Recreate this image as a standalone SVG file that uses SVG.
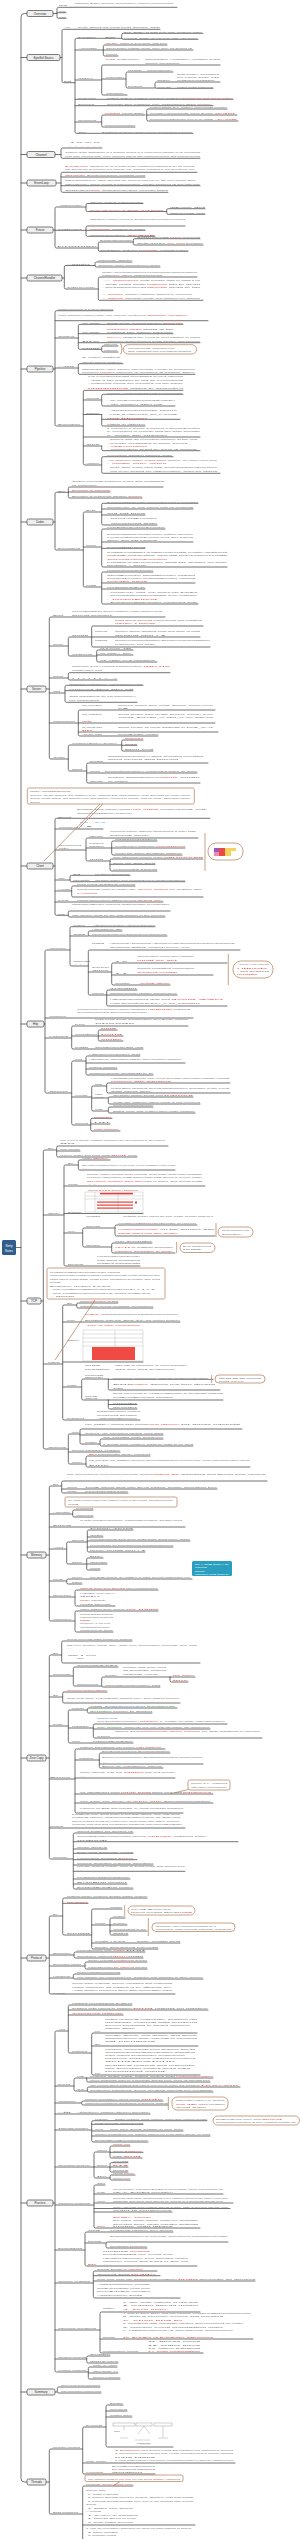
<svg xmlns="http://www.w3.org/2000/svg" width="300" height="2539" viewBox="0 0 300 2539">
<style>
.l{fill:none;stroke:#5b5b5b;stroke-width:.85;stroke-linecap:round;stroke-linejoin:round}
.t{font-family:"Liberation Sans",Arial,sans-serif;font-size:2.5px;fill:#6e6e6e}
.r{fill:#e5403a}.bl{fill:#3d82c4}.gr{fill:#3a9a4a}.w{fill:#fff}
.bx{fill:#efefef;stroke:#5b5b5b;stroke-width:.8}
.bt{font-family:"Liberation Sans",Arial,sans-serif;font-size:3px;fill:#333;text-anchor:middle}
.c{fill:#fff;stroke:#b98a6c;stroke-width:.8}
.cl{fill:none;stroke:#b98a6c;stroke-width:.8}
</style>
<rect width="300" height="2539" fill="#fff"/>
<g id="connectors" class="l">
<path d="M27,13.5H24.5Q21,13.5 21,17V2478.5Q21,2482 24.5,2482H27M21,57.5H27M21,154.5H27M21,183H27M21,230H27M21,278H27M21,369H27M21,522H27M21,689H27M21,866H27M21,1024H27M21,1301H27M21,1555H27M21,1758H27M21,1958H27M21,2203H27M21,2392H27M16,1247.5H21"/>
<path d="M53,13.5H57M177,7.3H58.5Q57,7.3 57,8.8V16.8Q57,18.3 58.5,18.3H66M57,12.7H66"/>
<path d="M60,57.5H62M160,29.3H63.5Q62,29.3 62,30.8V81.2Q62,82.7 63.5,82.7H75M121.7,38.3H76.5Q75,38.3 75,39.8V131.8Q75,133.3 76.5,133.3H193M75,50H103.3M75,80H101.7M75,99.3H233M75,105.7H213M75,122H101.7M203,33.3H123.2Q121.7,33.3 121.7,34.8V37.8Q121.7,39.3 123.2,39.3H198M167,45H104.8Q103.3,45 103.3,46.5V54.5Q103.3,56 104.8,56H118M103.3,50H193M220,65H103.2Q101.7,65 101.7,66.5V93.5Q101.7,95 103.2,95H127M101.7,79H126M173,72H127.5Q126,72 126,73.5V86.5Q126,88 127.5,88H155M220,82H156.5Q155,82 155,83.5V86.8Q155,88.3 156.5,88.3H213M145,115H103.2Q101.7,115 101.7,116.5V125.5Q101.7,127 103.2,127H135M227,109H148.2Q146.7,109 146.7,110.5V119.5Q146.7,121 148.2,121H238M146.7,115H237"/>
<path d="M55,154.5H61M102,148H62.5Q61,148 61,149.5V156.8Q61,158.3 62.5,158.3H200"/>
<path d="M56,183H61M197,172.3H62.5Q61,172.3 61,173.8V190.8Q61,192.3 62.5,192.3H168M61,177H145M61,185.7H200"/>
<path d="M53,230H55M86,207H56.5Q55,207 55,208.5V246.5Q55,248 56.5,248H98.3M55,230.3H86M143,203.5H87.5Q86,203.5 86,205V210Q86,211.5 87.5,211.5H166.7M205,208.7H168.2Q166.7,208.7 166.7,210.2V212.8Q166.7,214.3 168.2,214.3H205M185,226H87.5Q86,226 86,227.5V234.8Q86,236.3 87.5,236.3H155M86,230.3H145M133.3,242H99.8Q98.3,242 98.3,243.5V249.8Q98.3,251.3 99.8,251.3H188M200,238.7H134.8Q133.3,238.7 133.3,240.2V243.5Q133.3,245 134.8,245H203"/>
<path d="M62,278H64.3M95,265.5H65.8Q64.3,265.5 64.3,267V287.5Q64.3,289 65.8,289H98.3M132,262H96.5Q95,262 95,263.5V265.5Q95,267 96.5,267H160M197,277H99.8Q98.3,277 98.3,278.5V298.8Q98.3,300.3 99.8,300.3H203"/>
<path d="M53,369H55M113,310.7H56.5Q55,310.7 55,312.2V424.5Q55,426 56.5,426H83.3M55,320.7H208M55,338H78.3M55,368H78.3M183,324.3H79.8Q78.3,324.3 78.3,325.8V347.8Q78.3,349.3 79.8,349.3H101.7M78.3,333.7H173M78.3,342.7H200M118,346H103.2Q101.7,346 101.7,347.5V350.5Q101.7,352 103.2,352H118M123,363.7H79.8Q78.3,363.7 78.3,365.2V372.8Q78.3,374.3 79.8,374.3H195M183,390.3H84.8Q83.3,390.3 83.3,391.8V463.5Q83.3,465 84.8,465H101.7M83.3,400H101.7M83.3,414.5H101.7M83.3,437H200M83.3,446H101.7M183,394.3H103.2Q101.7,394.3 101.7,395.8V404.5Q101.7,406 103.2,406H175M101.7,414.5V424.5Q101.7,426 103.2,426H145M101.7,419.3H180M101.7,446V449.2Q101.7,450.7 103.2,450.7H200M173,456.7H103.2Q101.7,456.7 101.7,458.2V471.8Q101.7,473.3 103.2,473.3H220"/>
<path d="M53,522H55M68.3,492.3H56.5Q55,492.3 55,493.8V548.5Q55,550 56.5,550H83.3M163,487H69.8Q68.3,487 68.3,488.5V496.5Q68.3,498 69.8,498H142M68.3,492H110M101.7,512H84.8Q83.3,512 83.3,513.5V585.5Q83.3,587 84.8,587H101.7M83.3,547H101.7M198,503.3H103.2Q101.7,503.3 101.7,504.8V523.5Q101.7,525 103.2,525H157M101.7,509H193M101.7,515H145M165,529H103.2Q101.7,529 101.7,530.5V565.5Q101.7,567 103.2,567H227M101.7,542H193M101.7,548.3H145M153,572H103.2Q101.7,572 101.7,573.5V602.5Q101.7,604 103.2,604H198M101.7,583H195M101.7,589H145"/>
<path d="M46,689H49.3M165,617H50.8Q49.3,617 49.3,618.5V757.5Q49.3,759 50.8,759H68.3M49.3,646H68.3M49.3,678H68.3M49.3,693H65M49.3,723H78.3M91.7,637H69.8Q68.3,637 68.3,638.5V654.5Q68.3,656 69.8,656H96.7M203,626H93.2Q91.7,626 91.7,627.5V645.5Q91.7,647 93.2,647H210M91.7,637H200M133,650H98.2Q96.7,650 96.7,651.5V660.5Q96.7,662 98.2,662H157M96.7,655H133M170,672.7H69.8Q68.3,672.7 68.3,674.2V678.5Q68.3,680 69.8,680H117M143,685.3H66.5Q65,685.3 65,686.8V700.8Q65,702.3 66.5,702.3H137M65,690.7H133M215,710H79.8Q78.3,710 78.3,711.5V734.5Q78.3,736 79.8,736H158M78.3,723H215M78.3,732H218M121.7,745H69.8Q68.3,745 68.3,746.5V769.5Q68.3,771 69.8,771H86.7M143,740H123.2Q121.7,740 121.7,741.5V749.5Q121.7,751 123.2,751H153M121.7,745.3H137M208,763H88.2Q86.7,763 86.7,764.5V781.5Q86.7,783 88.2,783H200M86.7,773H197"/>
<path d="M53,866H55M210,818.3H56.5Q55,818.3 55,819.8V913.8Q55,915.3 56.5,915.3H68.3M55,829H103M55,850H86M55,880H70M55,891H71.7M55,902H163M198,838H87.5Q86,838 86,839.5V859.5Q86,861 87.5,861H110M86,848H111.7M157,841H113.2Q111.7,841 111.7,842.5V853.5Q111.7,855 113.2,855H182M111.7,848H185M203,859H111.5Q110,859 110,860.5V869.5Q110,871 111.5,871H157M110,864.3H155M130,875.3H71.5Q70,875.3 70,876.8V880.2Q70,881.7 71.5,881.7H185M135,886H73.2Q71.7,886 71.7,887.5V895.5Q71.7,897 73.2,897H203M170,911H69.8Q68.3,911 68.3,912.5V915.5Q68.3,917 69.8,917H165"/>
<path d="M44,1024H45M70,950H46.5Q45,950 45,951.5V1091.5Q45,1093 46.5,1093H71.7M45,1018H193M45,1038H71.7M155,926.7H71.5Q70,926.7 70,928.2V964.5Q70,966 71.5,966H88.3M70,936H88.3M122,931H89.8Q88.3,931 88.3,932.5V934.5Q88.3,936 89.8,936H167M240,950H89.8Q88.3,950 88.3,951.5V993.5Q88.3,995 89.8,995H106.7M88.3,972H111.7M227,963H113.2Q111.7,963 111.7,964.5V983.5Q111.7,985 113.2,985H170M111.7,975H213M137,990H108.2Q106.7,990 106.7,991.5V1004.5Q106.7,1006 108.2,1006H227M106.7,995H177M188,1026H73.2Q71.7,1026 71.7,1027.5V1047.5Q71.7,1049 73.2,1049H143M71.7,1036H98.3M117,1030H99.8Q98.3,1030 98.3,1031.5V1039.5Q98.3,1041 99.8,1041H123M98.3,1036H123M86,1061H73.2Q71.7,1061 71.7,1062.5V1123.5Q71.7,1125 73.2,1125H90.7M71.7,1097H91.7M140,1056H87.5Q86,1056 86,1057.5V1073.5Q86,1075 87.5,1075H153M86,1063H185M86,1069H117M106.7,1086H93.2Q91.7,1086 91.7,1087.5V1109.5Q91.7,1111 93.2,1111H108.3M91.7,1098H108.3M230,1083H108.2Q106.7,1083 106.7,1084.5V1091.5Q106.7,1093 108.2,1093H230M193,1097H109.8Q108.3,1097 108.3,1098.5V1102.5Q108.3,1104 109.8,1104H200M153,1107H109.8Q108.3,1107 108.3,1108.5V1111.5Q108.3,1113 109.8,1113H195M112,1118.3H92.2Q90.7,1118.3 90.7,1119.8V1129.5Q90.7,1131 92.2,1131H120M90.7,1124H110"/>
<path d="M41,1301H43.3M56.7,1150H44.8Q43.3,1150 43.3,1151.5V1447.5Q43.3,1449 44.8,1449H68.3M43.3,1215H64M43.3,1364H62.7M168,1146H58.2Q56.7,1146 56.7,1147.5V1155.5Q56.7,1157 58.2,1157H137M56.7,1151H80M78.3,1165H65.5Q64,1165 64,1166.5V1264.5Q64,1266 65.5,1266H140M64,1186H205M64,1213.5H143M64,1233H82.7M110,1160H79.8Q78.3,1160 78.3,1161.5V1168.5Q78.3,1170 79.8,1170H175M115,1228H84.2Q82.7,1228 82.7,1229.5V1245.5Q82.7,1247 84.2,1247H111.7M197,1225H116.5Q115,1225 115,1226.5V1234.5Q115,1236 116.5,1236H215M152,1243H113.2Q111.7,1243 111.7,1244.5V1251.5Q111.7,1253 113.2,1253H175M76.7,1305H64.2Q62.7,1305 62.7,1306.5V1418.5Q62.7,1420 64.2,1420H140M62.7,1322H180M62.7,1362H143M62.7,1387H81.7M118,1303H78.2Q76.7,1303 76.7,1304.5V1306.5Q76.7,1308 78.2,1308H153M108.3,1379H83.2Q81.7,1379 81.7,1380.5V1398.5Q81.7,1400 83.2,1400H108.3M108.3,1379.3H213M108.3,1379.3V1388.5Q108.3,1390 109.8,1390H220M108.3,1400H223M108.3,1400V1407.5Q108.3,1409 109.8,1409H137M108.3,1404.5H137M80,1434H69.8Q68.3,1434 68.3,1435.5V1462.5Q68.3,1464 69.8,1464H86M68.3,1452H120M242,1429H81.5Q80,1429 80,1430.5V1442.5Q80,1444 81.5,1444H100M80,1435H163M163,1439H101.5Q100,1439 100,1440.5V1444.5Q100,1446 101.5,1446H193M150,1456H87.5Q86,1456 86,1457.5V1465.5Q86,1467 87.5,1467H250"/>
<path d="M46,1555H49.3M61.7,1486H50.8Q49.3,1486 49.3,1487.5V1619.5Q49.3,1621 50.8,1621H75M49.3,1514H72.7M49.3,1527H185M49.3,1549H66.7M49.3,1581H66.7M49.3,1597H75M267,1481H63.2Q61.7,1481 61.7,1482.5V1491.5Q61.7,1493 63.2,1493H128M61.7,1489H217M93,1510H74.2Q72.7,1510 72.7,1511.5V1515.5Q72.7,1517 74.2,1517H93M87.3,1542H68.2Q66.7,1542 66.7,1543.5V1562.5Q66.7,1564 68.2,1564H86.7M133,1530H88.8Q87.3,1530 87.3,1531.5V1550.5Q87.3,1552 88.8,1552H145M87.3,1537H103M87.3,1541H190M87.3,1547H173M103,1558H88.2Q86.7,1558 86.7,1559.5V1568.5Q86.7,1570 88.2,1570H100M86.7,1564H107M192,1579H68.2Q66.7,1579 66.7,1580.5V1582.5Q66.7,1584 68.2,1584H82M158,1590H76.5Q75,1590 75,1591.5V1604.5Q75,1606 76.5,1606H115M158,1611H76.5Q75,1611 75,1612.5V1630.5Q75,1632 76.5,1632H113"/>
<path d="M46,1758H49.3M61.7,1655H50.8Q49.3,1655 49.3,1656.5V1857.5Q49.3,1859 50.8,1859H73.3M49.3,1676H73.3M49.3,1697H62.7M49.3,1726H68.3M49.3,1779H75M49.3,1828H185M132,1641H63.2Q61.7,1641 61.7,1642.5V1661.5Q61.7,1663 63.2,1663H200M118,1667H74.8Q73.3,1667 73.3,1668.5V1684.5Q73.3,1686 74.8,1686H101.7M170,1677H103.2Q101.7,1677 101.7,1678.5V1685.5Q101.7,1687 103.2,1687H160M170,1677H195M170,1677V1680.5Q170,1682 171.5,1682H188M107,1692H64.2Q62.7,1692 62.7,1693.5V1701.5Q62.7,1703 64.2,1703H180M87.3,1710H69.8Q68.3,1710 68.3,1711.5V1741.5Q68.3,1743 69.8,1743H133M68.3,1728H93.3M177,1708H88.8Q87.3,1708 87.3,1709.5V1711.5Q87.3,1713 88.8,1713H152M227,1724H94.8Q93.3,1724 93.3,1725.5V1736.5Q93.3,1738 94.8,1738H262M93.3,1729H210M165,1749H76.5Q75,1749 75,1750.5V1811.5Q75,1813 76.5,1813H183M75,1760H99.3M75,1778H175M75,1794H213M75,1803H213M170,1753H100.8Q99.3,1753 99.3,1754.5V1766.5Q99.3,1768 100.8,1768H163M99.3,1764H203M133,1833H74.8Q73.3,1833 73.3,1834.5V1887.5Q73.3,1889 74.8,1889H133M73.3,1841.7H238M73.3,1849H107M73.3,1853.3H133M73.3,1859.7H137M73.3,1865H153M73.3,1871.3H185M73.3,1879H130M73.3,1884H127"/>
<path d="M46,1958H49.3M62.7,1916H50.8Q49.3,1916 49.3,1917.5V1992.5Q49.3,1994 50.8,1994H175M49.3,1955H74M49.3,1966H85M49.3,1978H73.3M147,1898H64.2Q62.7,1898 62.7,1899.5V1933.5Q62.7,1935 64.2,1935H91.7M62.7,1903.3H88M122,1909H93.2Q91.7,1909 91.7,1910.5V1947.5Q91.7,1949 93.2,1949H158M91.7,1925H110M91.7,1943H180M125,1918H111.5Q110,1918 110,1919.5V1933.5Q110,1935 111.5,1935H128M110,1925H127M110,1931H147M145,1952H75.5Q74,1952 74,1953.5V1956.5Q74,1958 75.5,1958H143M147,1962H86.5Q85,1962 85,1963.5V1967.5Q85,1969 86.5,1969H147M120,1974H74.8Q73.3,1974 73.3,1975.5V1977.5Q73.3,1979 74.8,1979H203"/>
<path d="M53,2203H55M68.3,2031H56.5Q55,2031 55,2032.5V2370.5Q55,2372 56.5,2372H88.3M55,2086H74M55,2103H81.7M55,2114H150M55,2130H91.7M55,2167H94M55,2205H94M55,2250H85M55,2283H93.3M55,2330H100M55,2359H86.7M132,2005H69.8Q68.3,2005 68.3,2006.5V2051.5Q68.3,2053 69.8,2053H91.7M68.3,2010H208M68.3,2015H123M197,2033H93.2Q91.7,2033 91.7,2034.5V2073.5Q91.7,2075 93.2,2075H200M91.7,2046H198M86.7,2078H75.5Q74,2078 74,2079.5V2089.5Q74,2091 75.5,2091H87.3M86.7,2078H213M86.7,2078V2080.5Q86.7,2082 88.2,2082H210M240,2087H88.8Q87.3,2087 87.3,2088.5V2090.5Q87.3,2092 88.8,2092H213M163,2101H83.2Q81.7,2101 81.7,2102.5V2103.5Q81.7,2105 83.2,2105H168M207,2120.7H93.2Q91.7,2120.7 91.7,2122.2V2140.5Q91.7,2142 93.2,2142H148M91.7,2124.3H143M91.7,2131H183M91.7,2136H210M110,2152H95.5Q94,2152 94,2153.5V2176.5Q94,2178 95.5,2178H110M94,2167H110M130,2146H111.5Q110,2146 110,2147.5V2156.5Q110,2158 111.5,2158H142M110,2152.3H143M128,2162.7H111.5Q110,2162.7 110,2164.2V2170.5Q110,2172 111.5,2172H128M110,2167H128M135,2175H111.5Q110,2175 110,2176.5V2178.5Q110,2180 111.5,2180H130M105,2185H95.5Q94,2185 94,2186.5V2226.5Q94,2228 95.5,2228H200M94,2194H223M94,2203H233M94,2208.5H230M94,2212H172M173,2232H86.5Q85,2232 85,2233.5V2264.5Q85,2266 86.5,2266H197M85,2243H106M228,2242H107.5Q106,2242 106,2243.5V2246.5Q106,2248 107.5,2248H147M157,2271H94.8Q93.3,2271 93.3,2272.5V2296.5Q93.3,2298 94.8,2298H180M93.3,2275.7H160M93.3,2281H255M200,2312H101.5Q100,2312 100,2313.5V2351.5Q100,2353 101.5,2353H203M100,2339H253M110,2356H88.2Q86.7,2356 86.7,2357.5V2361.5Q86.7,2363 88.2,2363H118M117,2367H89.8Q88.3,2367 88.3,2368.5V2377.5Q88.3,2379 89.8,2379H120M88.3,2373H118"/>
<path d="M55,2392H57.3M100,2387H58.8Q57.3,2387 57.3,2388.5V2391.5Q57.3,2393 58.8,2393H101"/>
<path d="M46,2482H49.3M82.7,2449H50.8Q49.3,2449 49.3,2450.5V2512.5Q49.3,2514 50.8,2514H82.7M106,2427H84.2Q82.7,2427 82.7,2428.5V2472.5Q82.7,2474 84.2,2474H155M82.7,2463H235M123,2405H107.5Q106,2405 106,2406.5V2445.5Q106,2447 107.5,2447H173M106,2411H127M106,2417H132M133,2486H84.2Q82.7,2486 82.7,2487.5V2539M82.7,2525H195"/>
</g>
<g id="callout-links" class="cl">
<path d="M103,804L78,829M100,804L44,861M205,833V871M228.3,954V985M216,1223V1237M176.7,1242V1253M95,1300L55,1360M211.7,1375V1383M190,1789L170,1794M124.7,1905V1916M148.3,1918V1936M168.3,2097V2110M120,2481.5L113,2486"/>
</g>
<g id="root"><rect x="2" y="1240" width="14" height="15" rx="1.5" fill="#2f5d8c"/><text class="bt w" x="9" y="1246.5" style="fill:#fff">Netty</text><text class="bt" x="9" y="1251.5" style="fill:#fff">Notes</text></g>
<g id="n1" class="t">
<rect class="bx" x="27" y="10.5" width="26" height="6" rx="1.5"/><text class="bt" x="40" y="14.6">Overview</text>
<text x="59" y="6.4" textLength="8" lengthAdjust="spacingAndGlyphs">NIO</text>
<text x="75" y="4.2" textLength="98" lengthAdjust="spacingAndGlyphs">Channel Buffer Selector SelectionKey Socket ServerSocket</text>
<text x="75" y="6.6" textLength="4" lengthAdjust="spacingAndGlyphs">..</text>
<text x="59" y="11.9" textLength="7" lengthAdjust="spacingAndGlyphs">Netty</text>
<text x="59" y="17.5" textLength="7" lengthAdjust="spacingAndGlyphs">Mina</text>
</g>
<g id="n2" class="t">
<rect class="bx" x="27" y="54.5" width="33" height="6" rx="1.5"/><text class="bt" x="43.5" y="58.6">ByteBuf Basics</text>
<text x="64" y="28.4" textLength="6" lengthAdjust="spacingAndGlyphs">API</text>
<text x="78" y="28.4" textLength="82" lengthAdjust="spacingAndGlyphs">byte  short  int  long  float  double  char</text>
<text x="64" y="81.9" textLength="7" lengthAdjust="spacingAndGlyphs">bit</text>
<text x="78" y="37.5" textLength="18" lengthAdjust="spacingAndGlyphs">ByteOrder</text>
<text x="105" y="37.5" textLength="10" lengthAdjust="spacingAndGlyphs">Bits</text>
<text x="124" y="32.5" textLength="78" lengthAdjust="spacingAndGlyphs">BIG_ENDIAN high byte first, network order</text>
<text x="124" y="38.5" textLength="73" lengthAdjust="spacingAndGlyphs">LITTLE_ENDIAN low byte first, x86 order</text>
<text x="78" y="49.2" textLength="19" lengthAdjust="spacingAndGlyphs">Allocate</text>
<text class="r" x="106" y="44.2" textLength="11" lengthAdjust="spacingAndGlyphs">heap</text>
<text x="120" y="44.2" textLength="47" lengthAdjust="spacingAndGlyphs">buffer in JVM heap, fast alloc</text>
<text x="106" y="49.2" textLength="86" lengthAdjust="spacingAndGlyphs">direct buffer outside heap, zero copy for socket IO</text>
<text x="106" y="55.2" textLength="11" lengthAdjust="spacingAndGlyphs">pooled</text>
<text x="78" y="79.2" textLength="15" lengthAdjust="spacingAndGlyphs">Index</text>
<text class="r" x="106" y="60.3" textLength="9" lengthAdjust="spacingAndGlyphs">read</text>
<text x="117" y="60.3" textLength="22" lengthAdjust="spacingAndGlyphs">readerIndex</text>
<text x="145" y="60.3" textLength="75" lengthAdjust="spacingAndGlyphs">discardable | readable | writable bytes</text>
<text x="145" y="63.6" textLength="35" lengthAdjust="spacingAndGlyphs">capacity maxCapacity</text>
<text x="106" y="78.2" textLength="18" lengthAdjust="spacingAndGlyphs">readerIndex</text>
<text x="128" y="71.2" textLength="14" lengthAdjust="spacingAndGlyphs">mark</text>
<text x="147" y="71.2" textLength="25" lengthAdjust="spacingAndGlyphs">markReaderIndex</text>
<text x="128" y="87.2" textLength="14" lengthAdjust="spacingAndGlyphs">reset</text>
<text x="157" y="81.2" textLength="13" lengthAdjust="spacingAndGlyphs">writer</text>
<text x="177" y="75.3" textLength="42" lengthAdjust="spacingAndGlyphs">writerIndex increases</text>
<text x="177" y="78.3" textLength="42" lengthAdjust="spacingAndGlyphs">on each write call</text>
<text x="177" y="81.2" textLength="38" lengthAdjust="spacingAndGlyphs">ensureWritable</text>
<text x="157" y="87.5" textLength="14" lengthAdjust="spacingAndGlyphs">clear</text>
<text x="177" y="87.5" textLength="36" lengthAdjust="spacingAndGlyphs">reset both indexes</text>
<text x="106" y="94.2" textLength="18" lengthAdjust="spacingAndGlyphs">capacity</text>
<text x="78" y="98.5" textLength="18" lengthAdjust="spacingAndGlyphs">Read/Write</text>
<text x="107" y="98.5" textLength="74" lengthAdjust="spacingAndGlyphs">getByte setByte readByte writeByte skipBytes</text>
<text class="r" x="182" y="98.5" textLength="51" lengthAdjust="spacingAndGlyphs">get/set do not move index</text>
<text x="78" y="104.9" textLength="16" lengthAdjust="spacingAndGlyphs">Derived</text>
<text x="107" y="104.9" textLength="105" lengthAdjust="spacingAndGlyphs">duplicate slice readSlice copy retainedSlice share memory</text>
<text x="78" y="121.2" textLength="18" lengthAdjust="spacingAndGlyphs">RefCount</text>
<text class="r" x="105" y="114.2" textLength="15" lengthAdjust="spacingAndGlyphs">retain</text>
<text x="122" y="114.2" textLength="22" lengthAdjust="spacingAndGlyphs">release</text>
<text x="150" y="108.2" textLength="77" lengthAdjust="spacingAndGlyphs">refCnt starts at 1, retain() increments counter</text>
<text x="150" y="114.2" textLength="63" lengthAdjust="spacingAndGlyphs">release() decrements, freed at zero</text>
<text class="r" x="215" y="114.2" textLength="20" lengthAdjust="spacingAndGlyphs">leak!</text>
<text x="150" y="120.2" textLength="63" lengthAdjust="spacingAndGlyphs">ResourceLeakDetector level PARANOID</text>
<text class="r" x="215" y="120.2" textLength="22" lengthAdjust="spacingAndGlyphs">ADVANCED</text>
<text x="105" y="126.2" textLength="30" lengthAdjust="spacingAndGlyphs">ReferenceCountUtil</text>
<text x="78" y="132.5" textLength="8" lengthAdjust="spacingAndGlyphs">Tool</text>
<text x="102" y="132.5" textLength="90" lengthAdjust="spacingAndGlyphs">ByteBufUtil hexDump equals compare decodeString Unpooled</text>
</g>
<g id="n3" class="t">
<rect class="bx" x="27" y="151.5" width="28" height="6" rx="1.5"/><text class="bt" x="41" y="155.6">Channel</text>
<text x="70" y="142.5" textLength="30" lengthAdjust="spacingAndGlyphs">T    N    W    M</text>
<text class="r" x="68" y="146.5" textLength="34" lengthAdjust="spacingAndGlyphs">-  -  -  -  -  -</text>
<text x="65" y="152.5" textLength="135" lengthAdjust="spacingAndGlyphs">Channel is the abstraction of a network socket or a component capable of IO operations</text>
<text x="65" y="156.6" textLength="135" lengthAdjust="spacingAndGlyphs">read write connect bind, every Channel has its own ChannelPipeline and ChannelConfig</text>
</g>
<g id="n4" class="t">
<rect class="bx" x="27" y="180" width="29" height="6" rx="1.5"/><text class="bt" x="41.5" y="184.1">EventLoop</text>
<text class="r" x="65" y="166.5" textLength="23" lengthAdjust="spacingAndGlyphs">EventLoop</text>
<text x="90" y="166.5" textLength="105" lengthAdjust="spacingAndGlyphs">handles all IO events of the registered Channels for its lifetime</text>
<text x="65" y="170" textLength="130" lengthAdjust="spacingAndGlyphs">one EventLoop is bound to one Thread, one Channel registers to one EventLoop only</text>
<text class="r" x="65" y="175.7" textLength="20" lengthAdjust="spacingAndGlyphs">Group</text>
<text x="87" y="175.7" textLength="58" lengthAdjust="spacingAndGlyphs">EventLoopGroup contains loops</text>
<text x="65" y="180.5" textLength="130" lengthAdjust="spacingAndGlyphs">tasks submitted by other threads are queued and run by the loop thread itself</text>
<text x="65" y="184.6" textLength="135" lengthAdjust="spacingAndGlyphs">inEventLoop() check avoids synchronization, ioRatio balances IO and task time</text>
<text x="65" y="191.3" textLength="27" lengthAdjust="spacingAndGlyphs">schedule</text>
<text class="r" x="92" y="191.3" textLength="8" lengthAdjust="spacingAndGlyphs">tick</text>
<text x="102" y="191.3" textLength="66" lengthAdjust="spacingAndGlyphs">ScheduledFuture periodic tasks</text>
</g>
<g id="n5" class="t">
<rect class="bx" x="27" y="227" width="26" height="6" rx="1.5"/><text class="bt" x="40" y="231.1">Future</text>
<text x="60" y="206.2" textLength="22" lengthAdjust="spacingAndGlyphs">ChannelFuture</text>
<text x="90" y="202.7" textLength="53" lengthAdjust="spacingAndGlyphs">async result placeholder</text>
<text class="r" x="90" y="210.7" textLength="73" lengthAdjust="spacingAndGlyphs">never call sync() or await() in IO thread</text>
<text x="170" y="207.9" textLength="22" lengthAdjust="spacingAndGlyphs">isDone</text>
<text x="194" y="207.9" textLength="11" lengthAdjust="spacingAndGlyphs">get</text>
<text x="170" y="213.5" textLength="24" lengthAdjust="spacingAndGlyphs">isSuccess</text>
<text x="196" y="213.5" textLength="9" lengthAdjust="spacingAndGlyphs">cause</text>
<text x="58" y="229.5" textLength="24" lengthAdjust="spacingAndGlyphs">Listener</text>
<text x="90" y="220.3" textLength="95" lengthAdjust="spacingAndGlyphs">addListener: callback invoked by EventLoop when operation completes</text>
<text x="90" y="224.5" textLength="5" lengthAdjust="spacingAndGlyphs">..</text>
<text class="r" x="90" y="229.5" textLength="20" lengthAdjust="spacingAndGlyphs">complete</text>
<text x="112" y="229.5" textLength="33" lengthAdjust="spacingAndGlyphs">notified in order</text>
<text x="90" y="235.5" textLength="35" lengthAdjust="spacingAndGlyphs">ChannelFutureListener</text>
<text class="r" x="127" y="235.5" textLength="28" lengthAdjust="spacingAndGlyphs">CLOSE</text>
<text x="57" y="247.2" textLength="40" lengthAdjust="spacingAndGlyphs">Promise</text>
<text x="100" y="241.2" textLength="32" lengthAdjust="spacingAndGlyphs">DefaultPromise</text>
<text x="137" y="237.9" textLength="32" lengthAdjust="spacingAndGlyphs">setSuccess</text>
<text class="r" x="170" y="237.9" textLength="12" lengthAdjust="spacingAndGlyphs">once</text>
<text x="183" y="237.9" textLength="17" lengthAdjust="spacingAndGlyphs">trySuccess</text>
<text x="137" y="244.2" textLength="29" lengthAdjust="spacingAndGlyphs">setFailure</text>
<text class="r" x="167" y="244.2" textLength="18" lengthAdjust="spacingAndGlyphs">only once</text>
<text x="186" y="244.2" textLength="17" lengthAdjust="spacingAndGlyphs">tryFailure</text>
<text x="100" y="250.5" textLength="38" lengthAdjust="spacingAndGlyphs">writable future</text>
<text class="r" x="139" y="250.5" textLength="19" lengthAdjust="spacingAndGlyphs">Promise</text>
<text x="160" y="250.5" textLength="28" lengthAdjust="spacingAndGlyphs">extends Future</text>
</g>
<g id="n6" class="t">
<rect class="bx" x="27" y="275" width="35" height="6" rx="1.5"/><text class="bt" x="44.5" y="279.1">ChannelHandler</text>
<text x="67" y="264.7" textLength="23" lengthAdjust="spacingAndGlyphs">Adapter</text>
<text x="98" y="261.2" textLength="34" lengthAdjust="spacingAndGlyphs">InboundAdapter</text>
<text x="98" y="266.2" textLength="62" lengthAdjust="spacingAndGlyphs">OutboundAdapter ChannelDuplexHandler</text>
<text x="67" y="288.2" textLength="28" lengthAdjust="spacingAndGlyphs">Lifecycle</text>
<text x="102" y="272.7" textLength="95" lengthAdjust="spacingAndGlyphs">handlerAdded handlerRemoved exceptionCaught channelRegistered</text>
<text x="102" y="276.2" textLength="60" lengthAdjust="spacingAndGlyphs">channelActive channelRead</text>
<text x="102" y="280.9" textLength="10" lengthAdjust="spacingAndGlyphs">-</text>
<text class="r" x="113" y="280.9" textLength="25" lengthAdjust="spacingAndGlyphs">channelRead</text>
<text x="140" y="280.9" textLength="60" lengthAdjust="spacingAndGlyphs">must release msg or pass it on</text>
<text x="102" y="284.7" textLength="44" lengthAdjust="spacingAndGlyphs">- write flush close</text>
<text class="r" x="147" y="284.7" textLength="20" lengthAdjust="spacingAndGlyphs">outbound</text>
<text x="169" y="284.7" textLength="31" lengthAdjust="spacingAndGlyphs">tail to head</text>
<text x="102" y="288.4" textLength="44" lengthAdjust="spacingAndGlyphs">- fireChannelRead</text>
<text class="r" x="147" y="288.4" textLength="20" lengthAdjust="spacingAndGlyphs">inbound</text>
<text x="169" y="288.4" textLength="31" lengthAdjust="spacingAndGlyphs">head to tail</text>
<text x="102" y="294.6" textLength="5" lengthAdjust="spacingAndGlyphs">-</text>
<text class="r" x="108" y="294.6" textLength="15" lengthAdjust="spacingAndGlyphs">Sharable</text>
<text x="125" y="294.6" textLength="67" lengthAdjust="spacingAndGlyphs">handler instance shared by pipelines</text>
<text x="102" y="298.5" textLength="5" lengthAdjust="spacingAndGlyphs">-</text>
<text class="r" x="108" y="298.5" textLength="15" lengthAdjust="spacingAndGlyphs">stateless</text>
<text x="125" y="298.5" textLength="75" lengthAdjust="spacingAndGlyphs">otherwise create new instance per channel</text>
</g>
<g id="n7" class="t">
<rect class="bx" x="27" y="366" width="26" height="6" rx="1.5"/><text class="bt" x="40" y="370.1">Pipeline</text>
<text x="58" y="309.6" textLength="55" lengthAdjust="spacingAndGlyphs">ChannelPipeline is a list of handlers</text>
<text x="58" y="316" textLength="88" lengthAdjust="spacingAndGlyphs">each Channel owns exactly one pipeline created on</text>
<text class="r" x="147" y="316" textLength="40" lengthAdjust="spacingAndGlyphs">Channel creation</text>
<text x="58" y="319.4" textLength="4" lengthAdjust="spacingAndGlyphs">..</text>
<text x="58" y="337.2" textLength="16" lengthAdjust="spacingAndGlyphs">Context</text>
<text x="82" y="323.5" textLength="18" lengthAdjust="spacingAndGlyphs">ctx.write</text>
<text x="107" y="323.5" textLength="55" lengthAdjust="spacingAndGlyphs">starts at the current handler</text>
<text class="r" x="163" y="323.5" textLength="20" lengthAdjust="spacingAndGlyphs">skips tail</text>
<text class="r" x="107" y="329.5" textLength="35" lengthAdjust="spacingAndGlyphs">channel.write</text>
<text x="143" y="329.5" textLength="30" lengthAdjust="spacingAndGlyphs">starts at tail</text>
<text x="82" y="332.9" textLength="18" lengthAdjust="spacingAndGlyphs">ch.write</text>
<text x="107" y="332.9" textLength="66" lengthAdjust="spacingAndGlyphs">passes the whole pipeline</text>
<text class="r" x="107" y="338.3" textLength="15" lengthAdjust="spacingAndGlyphs">fireXXX</text>
<text x="123" y="338.3" textLength="77" lengthAdjust="spacingAndGlyphs">passes the event to next handler in chain</text>
<text x="82" y="341.9" textLength="18" lengthAdjust="spacingAndGlyphs">fire</text>
<text x="107" y="341.9" textLength="93" lengthAdjust="spacingAndGlyphs">ChannelHandlerContext binds handler and pipeline</text>
<text x="82" y="348.5" textLength="18" lengthAdjust="spacingAndGlyphs">Mask</text>
<text x="104" y="345.2" textLength="13" lengthAdjust="spacingAndGlyphs">inbound</text>
<text x="104" y="351.2" textLength="13" lengthAdjust="spacingAndGlyphs">outbound</text>
<path class="cl" d="M120,344Q121.5,344 121.5,346V347.5Q121.5,349 122.5,349Q121.5,349 121.5,350.5V352Q121.5,354 120,354"/>
<rect class="c" x="123.3" y="344.7" width="73.3" height="9.3" rx="4.6"/>
<text x="128" y="348.5" textLength="47" lengthAdjust="spacingAndGlyphs">executionMask computed once</text>
<text x="128" y="351.8" textLength="63" lengthAdjust="spacingAndGlyphs">skip handlers not overriding method</text>
<text x="82" y="357.5" textLength="38" lengthAdjust="spacingAndGlyphs">Z: order matters</text>
<text x="58" y="367.2" textLength="16" lengthAdjust="spacingAndGlyphs">Add</text>
<text x="82" y="362.9" textLength="40" lengthAdjust="spacingAndGlyphs">addLast addFirst addBefore</text>
<text x="82" y="369.6" textLength="113" lengthAdjust="spacingAndGlyphs">addLast(group, name, handler) uses separate executor for blocking work</text>
<text x="82" y="373.4" textLength="17" lengthAdjust="spacingAndGlyphs">remove</text>
<text class="r" x="100" y="373.4" textLength="15" lengthAdjust="spacingAndGlyphs">replace</text>
<text x="116" y="373.4" textLength="79" lengthAdjust="spacingAndGlyphs">pipeline is modified at runtime safely</text>
<text x="58" y="425.2" textLength="22" lengthAdjust="spacingAndGlyphs">Exception</text>
<text x="88" y="377.3" textLength="95" lengthAdjust="spacingAndGlyphs">F/C exceptionCaught propagates to next inbound</text>
<text x="88" y="380.7" textLength="95" lengthAdjust="spacingAndGlyphs">- add a tail handler to log all exceptions</text>
<text x="88" y="384.1" textLength="95" lengthAdjust="spacingAndGlyphs">- outbound errors are reported via the future</text>
<text class="r" x="88" y="389.4" textLength="40" lengthAdjust="spacingAndGlyphs">unhandled</text>
<text x="130" y="389.4" textLength="53" lengthAdjust="spacingAndGlyphs">logged by TailContext</text>
<text x="86" y="399.2" textLength="13" lengthAdjust="spacingAndGlyphs">Inbound</text>
<text x="107" y="393.5" textLength="75" lengthAdjust="spacingAndGlyphs">override exceptionCaught fireExceptionCaught</text>
<text x="107" y="401.2" textLength="68" lengthAdjust="spacingAndGlyphs">- ctx.fireExceptionCaught(cause)</text>
<text x="107" y="405.2" textLength="55" lengthAdjust="spacingAndGlyphs">- ctx.close() after log</text>
<text x="86" y="413.7" textLength="13" lengthAdjust="spacingAndGlyphs">Outbound</text>
<text x="107" y="411" textLength="70" lengthAdjust="spacingAndGlyphs">- ChannelPromise failure</text>
<text x="107" y="414.8" textLength="70" lengthAdjust="spacingAndGlyphs">- FIRE_EXCEPTION_ON_FAILURE</text>
<text class="r" x="107" y="418.5" textLength="40" lengthAdjust="spacingAndGlyphs">not thrown</text>
<text x="107" y="425.2" textLength="38" lengthAdjust="spacingAndGlyphs">catch in listener</text>
<text x="107" y="428.5" textLength="93" lengthAdjust="spacingAndGlyphs">a. exception in decode is wrapped in DecoderException</text>
<text x="107" y="432" textLength="93" lengthAdjust="spacingAndGlyphs">b. exception in encode fails the write promise</text>
<text x="107" y="435.8" textLength="60" lengthAdjust="spacingAndGlyphs">c. close the channel</text>
<text x="86" y="445.2" textLength="13" lengthAdjust="spacingAndGlyphs">Tips</text>
<text x="107" y="440" textLength="90" lengthAdjust="spacingAndGlyphs">- always add an exception handler at the end</text>
<text x="107" y="443.5" textLength="80" lengthAdjust="spacingAndGlyphs">- release messages in finally blocks</text>
<text class="r" x="107" y="447" textLength="40" lengthAdjust="spacingAndGlyphs">- IOException</text>
<text x="107" y="449.9" textLength="90" lengthAdjust="spacingAndGlyphs">- connection reset by peer is normal</text>
<text x="86" y="464.2" textLength="13" lengthAdjust="spacingAndGlyphs">Handler</text>
<text x="107" y="455.9" textLength="65" lengthAdjust="spacingAndGlyphs">exception handler sample code</text>
<text x="107" y="460.5" textLength="110" lengthAdjust="spacingAndGlyphs">- ctx.channel().close() closes whole channel, ctx.close() from here</text>
<text class="r" x="107" y="464" textLength="60" lengthAdjust="spacingAndGlyphs">- close only once</text>
<text x="107" y="467.5" textLength="110" lengthAdjust="spacingAndGlyphs">- write after close fails with ClosedChannelException</text>
<text x="107" y="471.5" textLength="110" lengthAdjust="spacingAndGlyphs">- log level debug for IOException, warn for others</text>
</g>
<g id="n8" class="t">
<rect class="bx" x="27" y="519" width="26" height="6" rx="1.5"/><text class="bt" x="40" y="523.1">Codec</text>
<text x="58" y="491.5" textLength="7" lengthAdjust="spacingAndGlyphs">Bo</text>
<text x="72" y="482" textLength="92" lengthAdjust="spacingAndGlyphs">Codec converts between bytes and messages</text>
<text x="72" y="485.5" textLength="25" lengthAdjust="spacingAndGlyphs">in pipeline</text>
<text class="r" x="72" y="491.2" textLength="38" lengthAdjust="spacingAndGlyphs">Decoder is inbound</text>
<text x="72" y="497.2" textLength="55" lengthAdjust="spacingAndGlyphs">Encoder is outbound handler</text>
<text class="r" x="128" y="497.2" textLength="14" lengthAdjust="spacingAndGlyphs">Codec</text>
<text x="58" y="549.2" textLength="22" lengthAdjust="spacingAndGlyphs">Decoders</text>
<text x="86" y="511.2" textLength="10" lengthAdjust="spacingAndGlyphs">Byte</text>
<text x="107" y="502.5" textLength="91" lengthAdjust="spacingAndGlyphs">ByteToMessageDecoder accumulates bytes in cumulation</text>
<text x="107" y="508.2" textLength="86" lengthAdjust="spacingAndGlyphs">decode(ctx, in, out) called until no progress</text>
<text x="107" y="514.2" textLength="38" lengthAdjust="spacingAndGlyphs">out list fired</text>
<text x="107" y="519.3" textLength="50" lengthAdjust="spacingAndGlyphs">- ReplayingDecoder</text>
<text x="107" y="523.5" textLength="50" lengthAdjust="spacingAndGlyphs">- checkpoint state</text>
<text x="86" y="546.2" textLength="10" lengthAdjust="spacingAndGlyphs">Frame</text>
<text x="107" y="528.2" textLength="58" lengthAdjust="spacingAndGlyphs">LineBasedFrameDecoder</text>
<text x="107" y="534.5" textLength="86" lengthAdjust="spacingAndGlyphs">DelimiterBasedFrameDecoder custom delimiter</text>
<text x="107" y="538" textLength="86" lengthAdjust="spacingAndGlyphs">FixedLengthFrameDecoder fixed size frames</text>
<text x="107" y="541.2" textLength="50" lengthAdjust="spacingAndGlyphs">sticky and half packets</text>
<text x="107" y="547.5" textLength="38" lengthAdjust="spacingAndGlyphs">LengthField</text>
<text x="107" y="552.5" textLength="120" lengthAdjust="spacingAndGlyphs">lengthFieldOffset lengthFieldLength lengthAdjustment</text>
<text x="107" y="556" textLength="120" lengthAdjust="spacingAndGlyphs">initialBytesToStrip failFast maxFrameLength</text>
<text class="r" x="107" y="559.5" textLength="60" lengthAdjust="spacingAndGlyphs">TooLongFrameException</text>
<text x="107" y="563" textLength="120" lengthAdjust="spacingAndGlyphs">LengthFieldPrepender adds the header on write</text>
<text x="107" y="566.2" textLength="40" lengthAdjust="spacingAndGlyphs">header + body</text>
<text x="86" y="586.2" textLength="10" lengthAdjust="spacingAndGlyphs">Msg</text>
<text x="107" y="571.2" textLength="46" lengthAdjust="spacingAndGlyphs">MessageToMessageDecoder</text>
<text x="107" y="575.5" textLength="88" lengthAdjust="spacingAndGlyphs">StringDecoder StringEncoder charset</text>
<text x="107" y="579" textLength="88" lengthAdjust="spacingAndGlyphs">ProtobufDecoder ProtobufEncoder varint32</text>
<text class="r" x="107" y="582.2" textLength="40" lengthAdjust="spacingAndGlyphs">release input</text>
<text x="107" y="588.2" textLength="38" lengthAdjust="spacingAndGlyphs">MessageToByte</text>
<text x="107" y="592.5" textLength="90" lengthAdjust="spacingAndGlyphs">- encode(ctx, msg, out) writes into ByteBuf</text>
<text x="107" y="596" textLength="90" lengthAdjust="spacingAndGlyphs">- acceptOutboundMessage type matcher</text>
<text class="r" x="107" y="599.5" textLength="50" lengthAdjust="spacingAndGlyphs">- preferDirect</text>
<text x="107" y="603.2" textLength="90" lengthAdjust="spacingAndGlyphs">- ByteToMessageCodec combines both</text>
</g>
<g id="n9" class="t">
<rect class="bx" x="27" y="686" width="19" height="6" rx="1.5"/><text class="bt" x="36.5" y="690.1">Server</text>
<text x="53" y="616.2" textLength="10" lengthAdjust="spacingAndGlyphs">Boot</text>
<text x="72" y="612" textLength="90" lengthAdjust="spacingAndGlyphs">ServerBootstrap group channel childHandler bind</text>
<text x="72" y="615.6" textLength="40" lengthAdjust="spacingAndGlyphs">fluent builder</text>
<text x="53" y="645.2" textLength="10" lengthAdjust="spacingAndGlyphs">Group</text>
<text x="72" y="636.2" textLength="16" lengthAdjust="spacingAndGlyphs">boss</text>
<text x="115" y="620.5" textLength="87" lengthAdjust="spacingAndGlyphs">boss group accepts connections and registers</text>
<text class="r" x="115" y="624.2" textLength="40" lengthAdjust="spacingAndGlyphs">usually 1 thread</text>
<text x="95" y="631.8" textLength="12" lengthAdjust="spacingAndGlyphs">parent</text>
<text x="115" y="631.8" textLength="85" lengthAdjust="spacingAndGlyphs">worker group handles read and write of child</text>
<text x="115" y="635.5" textLength="50" lengthAdjust="spacingAndGlyphs">default cpu * 2</text>
<text x="95" y="641" textLength="12" lengthAdjust="spacingAndGlyphs">child</text>
<text x="115" y="641" textLength="95" lengthAdjust="spacingAndGlyphs">NioServerSocketChannel EpollServerSocketChannel</text>
<text x="115" y="645.3" textLength="40" lengthAdjust="spacingAndGlyphs">KQueue on mac</text>
<text x="72" y="655.2" textLength="20" lengthAdjust="spacingAndGlyphs">options</text>
<text x="100" y="649.2" textLength="20" lengthAdjust="spacingAndGlyphs">SO_BACKLOG</text>
<text x="123" y="649.2" textLength="8" lengthAdjust="spacingAndGlyphs">128</text>
<text x="100" y="654.2" textLength="20" lengthAdjust="spacingAndGlyphs">TCP_NODELAY</text>
<text x="123" y="654.2" textLength="8" lengthAdjust="spacingAndGlyphs">true</text>
<text x="100" y="661.2" textLength="55" lengthAdjust="spacingAndGlyphs">SO_KEEPALIVE childOption</text>
<text x="53" y="677.2" textLength="10" lengthAdjust="spacingAndGlyphs">bind</text>
<text x="72" y="667" textLength="70" lengthAdjust="spacingAndGlyphs">bind(port).sync() returns ChannelFuture</text>
<text class="r" x="143" y="667" textLength="27" lengthAdjust="spacingAndGlyphs">async</text>
<text x="72" y="670.7" textLength="30" lengthAdjust="spacingAndGlyphs">register then bind</text>
<text x="72" y="679.2" textLength="45" lengthAdjust="spacingAndGlyphs">[ ]  ( )  { }  &lt; &gt;</text>
<text x="53" y="692.2" textLength="7" lengthAdjust="spacingAndGlyphs">Init</text>
<text x="69" y="684.5" textLength="74" lengthAdjust="spacingAndGlyphs">ChannelInitializer initChannel(ch)</text>
<text x="69" y="689.9" textLength="64" lengthAdjust="spacingAndGlyphs">removes itself after init</text>
<text x="69" y="697" textLength="67" lengthAdjust="spacingAndGlyphs">add handlers to ch.pipeline()</text>
<text x="69" y="700.6" textLength="30" lengthAdjust="spacingAndGlyphs">per connection</text>
<text x="53" y="722.2" textLength="22" lengthAdjust="spacingAndGlyphs">ChannelOption</text>
<text x="82" y="705.5" textLength="20" lengthAdjust="spacingAndGlyphs">SO_RCVBUF</text>
<text x="118" y="705.5" textLength="95" lengthAdjust="spacingAndGlyphs">receive buffer size of the socket, kernel level</text>
<text x="118" y="709.1" textLength="10" lengthAdjust="spacingAndGlyphs">KB</text>
<text x="82" y="714.5" textLength="20" lengthAdjust="spacingAndGlyphs">SO_SNDBUF</text>
<text x="118" y="714.5" textLength="95" lengthAdjust="spacingAndGlyphs">send buffer size of the socket, kernel level</text>
<text x="118" y="718" textLength="95" lengthAdjust="spacingAndGlyphs">WRITE_BUFFER_WATER_MARK high low</text>
<text class="r" x="82" y="722" textLength="10" lengthAdjust="spacingAndGlyphs">note</text>
<text x="82" y="727.5" textLength="20" lengthAdjust="spacingAndGlyphs">SO_REUSEADDR</text>
<text x="118" y="727.5" textLength="95" lengthAdjust="spacingAndGlyphs">allow reuse of local address in TIME_WAIT</text>
<text class="r" x="82" y="731.2" textLength="10" lengthAdjust="spacingAndGlyphs">tip</text>
<text x="82" y="735.2" textLength="20" lengthAdjust="spacingAndGlyphs">ALLOCATOR</text>
<text x="118" y="735.2" textLength="40" lengthAdjust="spacingAndGlyphs">PooledByteBufAllocator</text>
<text x="53" y="758.2" textLength="12" lengthAdjust="spacingAndGlyphs">Close</text>
<text x="72" y="744.2" textLength="45" lengthAdjust="spacingAndGlyphs">closeFuture().sync()</text>
<text class="r" x="125" y="739.2" textLength="18" lengthAdjust="spacingAndGlyphs">graceful</text>
<text x="125" y="744.5" textLength="12" lengthAdjust="spacingAndGlyphs">wait</text>
<text x="125" y="750.2" textLength="28" lengthAdjust="spacingAndGlyphs">then exit</text>
<text x="72" y="770.2" textLength="10" lengthAdjust="spacingAndGlyphs">shut</text>
<text x="90" y="762.2" textLength="13" lengthAdjust="spacingAndGlyphs">boss</text>
<text x="108" y="756.5" textLength="95" lengthAdjust="spacingAndGlyphs">shutdownGracefully() stops accepting new tasks</text>
<text x="108" y="760.2" textLength="70" lengthAdjust="spacingAndGlyphs">quiet period and timeout</text>
<text x="90" y="772.2" textLength="10" lengthAdjust="spacingAndGlyphs">work</text>
<text x="105" y="772.2" textLength="92" lengthAdjust="spacingAndGlyphs">terminationFuture() completes when all done</text>
<text x="90" y="782.2" textLength="13" lengthAdjust="spacingAndGlyphs">hook</text>
<text x="108" y="778" textLength="55" lengthAdjust="spacingAndGlyphs">Runtime addShutdownHook</text>
<text class="r" x="163" y="778" textLength="15" lengthAdjust="spacingAndGlyphs">hook</text>
<text x="180" y="778" textLength="20" lengthAdjust="spacingAndGlyphs">close</text>
<text x="108" y="781.5" textLength="20" lengthAdjust="spacingAndGlyphs">in order</text>
<rect class="c" x="27.3" y="788" width="167" height="16" rx="1.5"/>
<text x="30" y="792" textLength="40" lengthAdjust="spacingAndGlyphs">Note: bootstrapping</text>
<text x="30" y="795.6" textLength="160" lengthAdjust="spacingAndGlyphs">Server: create groups, set channel type, options and child handler, bind and wait for close future</text>
<text x="30" y="799.2" textLength="160" lengthAdjust="spacingAndGlyphs">Client: create group, set channel type and handler, connect to remote, wait for close, shut down group</text>
<text x="30" y="802.8" textLength="10" lengthAdjust="spacingAndGlyphs">done</text>
</g>
<g id="n10" class="t">
<rect class="bx" x="27" y="863" width="26" height="6" rx="1.5"/><text class="bt" x="40" y="867.1">Client</text>
<text x="58" y="817.5" textLength="13" lengthAdjust="spacingAndGlyphs">Boot</text>
<text x="77" y="810" textLength="55" lengthAdjust="spacingAndGlyphs">Bootstrap group channel handler</text>
<text class="r" x="133" y="810" textLength="25" lengthAdjust="spacingAndGlyphs">no child</text>
<text x="160" y="810" textLength="47" lengthAdjust="spacingAndGlyphs">connect(host, port)</text>
<text x="77" y="813.6" textLength="55" lengthAdjust="spacingAndGlyphs">NioSocketChannel resolver</text>
<text x="59" y="828.2" textLength="19" lengthAdjust="spacingAndGlyphs">connect</text>
<text class="bl" x="80" y="822.5" textLength="8" lengthAdjust="spacingAndGlyphs">o o</text>
<text class="bl" x="95" y="822.5" textLength="10" lengthAdjust="spacingAndGlyphs">o-o</text>
<text x="80" y="826.5" textLength="12" lengthAdjust="spacingAndGlyphs">A   B</text>
<text x="59" y="845.5" textLength="22" lengthAdjust="spacingAndGlyphs">Reconnect</text>
<text x="59" y="849.2" textLength="10" lengthAdjust="spacingAndGlyphs">retry</text>
<text x="89" y="837.2" textLength="14" lengthAdjust="spacingAndGlyphs">listener</text>
<text x="110" y="832" textLength="86" lengthAdjust="spacingAndGlyphs">connect future listener schedules a retry task</text>
<text x="110" y="835.6" textLength="40" lengthAdjust="spacingAndGlyphs">backoff delay</text>
<text x="89" y="843.5" textLength="15" lengthAdjust="spacingAndGlyphs">inactive</text>
<text x="89" y="847.2" textLength="15" lengthAdjust="spacingAndGlyphs">handler</text>
<text x="115" y="840.2" textLength="42" lengthAdjust="spacingAndGlyphs">channelInactive</text>
<text x="115" y="847.2" textLength="40" lengthAdjust="spacingAndGlyphs">eventLoop().schedule</text>
<text class="r" x="156" y="847.2" textLength="29" lengthAdjust="spacingAndGlyphs">reconnect</text>
<text x="115" y="854.2" textLength="67" lengthAdjust="spacingAndGlyphs">reuse the same Bootstrap instance</text>
<text x="90" y="860.2" textLength="13" lengthAdjust="spacingAndGlyphs">limit</text>
<text x="113" y="858.2" textLength="55" lengthAdjust="spacingAndGlyphs">max attempts counter reset on</text>
<text class="r" x="168" y="858.2" textLength="35" lengthAdjust="spacingAndGlyphs">success</text>
<text x="113" y="863.5" textLength="42" lengthAdjust="spacingAndGlyphs">give up and alert</text>
<text x="113" y="870.2" textLength="44" lengthAdjust="spacingAndGlyphs">exponential backoff</text>
<rect class="c" x="208" y="843" width="35" height="17" rx="8"/>
<rect x="214" y="848" width="5" height="4" fill="#9b59c4"/><rect x="219" y="848" width="6" height="8" fill="#e84a44"/><rect x="225" y="848" width="6" height="8" fill="#f4d35e"/><rect x="214" y="852" width="5" height="4" fill="#f08ab0"/><rect x="231" y="848" width="5" height="3" fill="#f4d35e"/>
<text x="58" y="879.2" textLength="7" lengthAdjust="spacingAndGlyphs">Idle</text>
<text x="73" y="874.5" textLength="8" lengthAdjust="spacingAndGlyphs">R</text>
<text x="95" y="874.5" textLength="35" lengthAdjust="spacingAndGlyphs">readerIdleTime</text>
<text x="73" y="880.9" textLength="17" lengthAdjust="spacingAndGlyphs">IdleState</text>
<text x="95" y="880.9" textLength="90" lengthAdjust="spacingAndGlyphs">IdleStateHandler fires IdleStateEvent to userEventTriggered</text>
<text x="58" y="890.2" textLength="12" lengthAdjust="spacingAndGlyphs">Heart</text>
<text x="77" y="885.2" textLength="58" lengthAdjust="spacingAndGlyphs">ping pong heartbeat packets</text>
<text x="77" y="890" textLength="60" lengthAdjust="spacingAndGlyphs">client sends ping on writer idle,</text>
<text class="r" x="138" y="890" textLength="30" lengthAdjust="spacingAndGlyphs">server closes</text>
<text x="169" y="890" textLength="33" lengthAdjust="spacingAndGlyphs">on reader idle</text>
<text class="r" x="77" y="893.6" textLength="20" lengthAdjust="spacingAndGlyphs">3 x timeout</text>
<text x="58" y="901.2" textLength="10" lengthAdjust="spacingAndGlyphs">Log</text>
<text x="77" y="901.2" textLength="60" lengthAdjust="spacingAndGlyphs">LoggingHandler(LogLevel.DEBUG) hex dump</text>
<text class="r" x="138" y="901.2" textLength="25" lengthAdjust="spacingAndGlyphs">debug only</text>
<text x="58" y="914.5" textLength="7" lengthAdjust="spacingAndGlyphs">SSL</text>
<text x="72" y="905" textLength="97" lengthAdjust="spacingAndGlyphs">SslContextBuilder forClient trustManager keyManager</text>
<text x="72" y="908.6" textLength="5" lengthAdjust="spacingAndGlyphs">..</text>
<text x="72" y="916.2" textLength="93" lengthAdjust="spacingAndGlyphs">SslHandler must be the first handler in the pipeline</text>
</g>
<g id="n11" class="t">
<rect class="bx" x="27" y="1021" width="17" height="6" rx="1.5"/><text class="bt" x="35.5" y="1025.1">Http</text>
<text x="49" y="949.2" textLength="17" lengthAdjust="spacingAndGlyphs">HttpCodec</text>
<text x="73" y="925.9" textLength="12" lengthAdjust="spacingAndGlyphs">codec</text>
<text x="93" y="925.9" textLength="62" lengthAdjust="spacingAndGlyphs">HttpServerCodec HttpClientCodec</text>
<text x="73" y="935.2" textLength="12" lengthAdjust="spacingAndGlyphs">agg</text>
<text x="92" y="930.2" textLength="30" lengthAdjust="spacingAndGlyphs">HttpObjectAggr</text>
<text x="92" y="935.2" textLength="75" lengthAdjust="spacingAndGlyphs">maxContentLength FullHttpRequest FullHttpResponse</text>
<text x="73" y="962" textLength="17" lengthAdjust="spacingAndGlyphs">objects</text>
<text x="73" y="965.2" textLength="10" lengthAdjust="spacingAndGlyphs">..</text>
<text x="92" y="944" textLength="12" lengthAdjust="spacingAndGlyphs">msg</text>
<text x="110" y="944" textLength="125" lengthAdjust="spacingAndGlyphs">HttpRequest HttpResponse HttpContent LastHttpContent DefaultFullHttpResponse</text>
<text x="110" y="947.6" textLength="80" lengthAdjust="spacingAndGlyphs">headers status version keepAlive</text>
<text x="92" y="968" textLength="17" lengthAdjust="spacingAndGlyphs">keep</text>
<text x="92" y="971.3" textLength="17" lengthAdjust="spacingAndGlyphs">alive</text>
<text x="115" y="962.2" textLength="12" lengthAdjust="spacingAndGlyphs">1.0</text>
<text x="137" y="957" textLength="57" lengthAdjust="spacingAndGlyphs">Connection: keep-alive header</text>
<text class="r" x="137" y="960.5" textLength="40" lengthAdjust="spacingAndGlyphs">must be set</text>
<text x="115" y="974.2" textLength="12" lengthAdjust="spacingAndGlyphs">1.1</text>
<text x="137" y="969" textLength="57" lengthAdjust="spacingAndGlyphs">default persistent connection</text>
<text class="r" x="137" y="972.5" textLength="40" lengthAdjust="spacingAndGlyphs">Content-Length</text>
<text x="115" y="984.2" textLength="15" lengthAdjust="spacingAndGlyphs">close</text>
<text class="r" x="140" y="984.2" textLength="30" lengthAdjust="spacingAndGlyphs">CLOSE listener</text>
<text x="92" y="994.2" textLength="12" lengthAdjust="spacingAndGlyphs">chunk</text>
<text x="110" y="989.2" textLength="27" lengthAdjust="spacingAndGlyphs">Transfer</text>
<text x="110" y="994.2" textLength="67" lengthAdjust="spacingAndGlyphs">ChunkedWriteHandler ChunkedFile</text>
<text x="110" y="1000" textLength="60" lengthAdjust="spacingAndGlyphs">HttpChunkedInput large files</text>
<text class="r" x="171" y="1000" textLength="52" lengthAdjust="spacingAndGlyphs">avoid OOM</text>
<text x="110" y="1003.7" textLength="90" lengthAdjust="spacingAndGlyphs">LastHttpContent.EMPTY_LAST_CONTENT</text>
<rect class="c" x="233" y="961" width="40" height="17" rx="8"/>
<text x="237" y="965.2" textLength="32" lengthAdjust="spacingAndGlyphs">- keepAlive check</text>
<text class="r" x="237" y="968.6" textLength="30" lengthAdjust="spacingAndGlyphs">HttpUtil</text>
<text x="237" y="972" textLength="32" lengthAdjust="spacingAndGlyphs">- set headers</text>
<text class="r" x="237" y="975.4" textLength="20" lengthAdjust="spacingAndGlyphs">length</text>
<text x="49" y="1017.2" textLength="17" lengthAdjust="spacingAndGlyphs">WebSocket</text>
<text x="77" y="1009.5" textLength="70" lengthAdjust="spacingAndGlyphs">WebSocketServerProtocolHandler handshake</text>
<text class="r" x="148" y="1009.5" textLength="25" lengthAdjust="spacingAndGlyphs">upgrade</text>
<text x="174" y="1009.5" textLength="16" lengthAdjust="spacingAndGlyphs">frames</text>
<text x="77" y="1013.2" textLength="70" lengthAdjust="spacingAndGlyphs">TextWebSocketFrame BinaryWebSocketFrame</text>
<text x="49" y="1037.2" textLength="19" lengthAdjust="spacingAndGlyphs">Frames</text>
<text x="75" y="1025.2" textLength="10" lengthAdjust="spacingAndGlyphs">type</text>
<text x="95" y="1020" textLength="93" lengthAdjust="spacingAndGlyphs">Ping Pong Close Continuation Text Binary frames</text>
<text x="95" y="1023.6" textLength="40" lengthAdjust="spacingAndGlyphs">opcode</text>
<text x="75" y="1035.2" textLength="22" lengthAdjust="spacingAndGlyphs">control</text>
<text class="r" x="101" y="1029.2" textLength="15" lengthAdjust="spacingAndGlyphs">ping</text>
<text class="r" x="101" y="1035.2" textLength="21" lengthAdjust="spacingAndGlyphs">pong</text>
<text class="r" x="101" y="1040.2" textLength="21" lengthAdjust="spacingAndGlyphs">close</text>
<text x="75" y="1048.2" textLength="13" lengthAdjust="spacingAndGlyphs">path</text>
<text x="95" y="1048.2" textLength="48" lengthAdjust="spacingAndGlyphs">websocketPath /ws</text>
<text x="49" y="1092.2" textLength="19" lengthAdjust="spacingAndGlyphs">Server</text>
<text x="75" y="1060.2" textLength="7" lengthAdjust="spacingAndGlyphs">init</text>
<text x="89" y="1055.2" textLength="51" lengthAdjust="spacingAndGlyphs">HttpServerCodec first</text>
<text x="89" y="1059.5" textLength="92" lengthAdjust="spacingAndGlyphs">HttpObjectAggregator(65536) then protocol handler</text>
<text x="89" y="1062.5" textLength="4" lengthAdjust="spacingAndGlyphs">..</text>
<text x="89" y="1068.2" textLength="28" lengthAdjust="spacingAndGlyphs">custom handler</text>
<text x="89" y="1074.2" textLength="64" lengthAdjust="spacingAndGlyphs">ChannelGroup broadcast to all</text>
<text x="75" y="1096.2" textLength="12" lengthAdjust="spacingAndGlyphs">events</text>
<text x="95" y="1085.2" textLength="7" lengthAdjust="spacingAndGlyphs">hs</text>
<text x="111" y="1078.5" textLength="118" lengthAdjust="spacingAndGlyphs">HandshakeComplete user event fired after successful upgrade request</text>
<text class="r" x="111" y="1082.2" textLength="60" lengthAdjust="spacingAndGlyphs">remove http handlers</text>
<text x="111" y="1088.5" textLength="118" lengthAdjust="spacingAndGlyphs">requestUri headers selectedSubprotocol available in the event</text>
<text x="111" y="1092.2" textLength="40" lengthAdjust="spacingAndGlyphs">auth check here</text>
<text x="95" y="1094.5" textLength="8" lengthAdjust="spacingAndGlyphs">idle</text>
<text x="95" y="1097.6" textLength="8" lengthAdjust="spacingAndGlyphs">ping</text>
<text x="113" y="1096.2" textLength="50" lengthAdjust="spacingAndGlyphs">IdleStateHandler sends ping</text>
<text class="r" x="164" y="1096.2" textLength="29" lengthAdjust="spacingAndGlyphs">frames</text>
<text x="113" y="1103.2" textLength="87" lengthAdjust="spacingAndGlyphs">close the channel when pong is not received</text>
<text x="95" y="1110.2" textLength="8" lengthAdjust="spacingAndGlyphs">close</text>
<text x="113" y="1106.2" textLength="40" lengthAdjust="spacingAndGlyphs">CloseWebSocketFrame</text>
<text x="113" y="1112.2" textLength="82" lengthAdjust="spacingAndGlyphs">status code and reason then close channel</text>
<text x="75" y="1124.2" textLength="13" lengthAdjust="spacingAndGlyphs">client</text>
<text class="r" x="94" y="1117.5" textLength="17" lengthAdjust="spacingAndGlyphs">handshaker</text>
<text x="94" y="1123.2" textLength="15" lengthAdjust="spacingAndGlyphs">uri</text>
<text class="r" x="94" y="1130.2" textLength="25" lengthAdjust="spacingAndGlyphs">finishHandshake</text>
</g>
<g id="n12" class="t">
<rect class="bx" x="27" y="1298" width="14" height="6" rx="1.5"/><text class="bt" x="34" y="1302.1">TCP</text>
<text x="48" y="1149.2" textLength="5" lengthAdjust="spacingAndGlyphs">Bo</text>
<text x="60" y="1140.5" textLength="105" lengthAdjust="spacingAndGlyphs">TCP is a byte stream, message boundaries are not preserved by the protocol</text>
<text x="60" y="1144.1" textLength="15" lengthAdjust="spacingAndGlyphs">so</text>
<text x="60" y="1150.2" textLength="20" lengthAdjust="spacingAndGlyphs">Nagle algorithm</text>
<text x="60" y="1156.2" textLength="50" lengthAdjust="spacingAndGlyphs">receive buffer and MSS limits</text>
<text class="r" x="111" y="1156.2" textLength="15" lengthAdjust="spacingAndGlyphs">split</text>
<text x="128" y="1156.2" textLength="9" lengthAdjust="spacingAndGlyphs">merge</text>
<text x="48" y="1214.2" textLength="12" lengthAdjust="spacingAndGlyphs">Sticky</text>
<text x="68" y="1164.2" textLength="5" lengthAdjust="spacingAndGlyphs">Bo</text>
<text x="82" y="1159.2" textLength="10" lengthAdjust="spacingAndGlyphs">case</text>
<text class="r" x="93" y="1159.2" textLength="15" lengthAdjust="spacingAndGlyphs">sticky</text>
<text x="82" y="1166" textLength="93" lengthAdjust="spacingAndGlyphs">two small messages arrive in one read, or one message in two reads</text>
<text x="82" y="1169.3" textLength="5" lengthAdjust="spacingAndGlyphs">..</text>
<text x="68" y="1185.2" textLength="10" lengthAdjust="spacingAndGlyphs">Cause</text>
<text x="87" y="1174.5" textLength="115" lengthAdjust="spacingAndGlyphs">sender: Nagle merges small packets, send buffer larger than message</text>
<text x="87" y="1178" textLength="115" lengthAdjust="spacingAndGlyphs">receiver: application reads slower than data arrives in receive buffer</text>
<text class="r" x="87" y="1181.5" textLength="55" lengthAdjust="spacingAndGlyphs">half packet: message larger than</text>
<text x="143" y="1181.5" textLength="59" lengthAdjust="spacingAndGlyphs">MSS or buffer, split across reads</text>
<text x="87" y="1185.1" textLength="10" lengthAdjust="spacingAndGlyphs">..</text>
<text x="68" y="1212.7" textLength="13" lengthAdjust="spacingAndGlyphs">Diagram</text>
<text class="r" x="88" y="1190.5" textLength="50" lengthAdjust="spacingAndGlyphs">client D1 D2 server timeline</text>
<rect x="85" y="1192" width="58" height="20" fill="none" stroke="#999" stroke-width=".3"/>
<path d="M85,1196H143M85,1199H143M118,1192V1212M95,1192V1212" stroke="#999" stroke-width=".3" fill="none"/>
<rect x="100" y="1192.8" width="33" height="1.6" fill="#e5403a"/><rect x="97" y="1201.5" width="36" height="1.2" fill="#e5403a"/><rect x="97" y="1204.5" width="36" height="1.2" fill="#e5403a"/><rect x="97" y="1207.5" width="36" height="1.2" fill="#e5403a"/><rect x="135" y="1201.5" width="2" height="2" fill="#e5403a"/>
<text x="68" y="1232.2" textLength="7" lengthAdjust="spacingAndGlyphs">Fix</text>
<text x="86" y="1216.5" textLength="14" lengthAdjust="spacingAndGlyphs">length</text>
<text x="123" y="1216.5" textLength="90" lengthAdjust="spacingAndGlyphs">message header carries the body length, decoder waits for it</text>
<text x="86" y="1227.2" textLength="14" lengthAdjust="spacingAndGlyphs">field</text>
<text x="118" y="1224.2" textLength="78" lengthAdjust="spacingAndGlyphs">LengthFieldBasedFrameDecoder on receiver</text>
<text class="r" x="118" y="1230" textLength="40" lengthAdjust="spacingAndGlyphs">LengthFieldPrepender</text>
<text x="160" y="1230" textLength="55" lengthAdjust="spacingAndGlyphs">on the sender side</text>
<text class="r" x="118" y="1233.7" textLength="60" lengthAdjust="spacingAndGlyphs">adjust offset and strip header</text>
<text x="86" y="1246.2" textLength="14" lengthAdjust="spacingAndGlyphs">delim</text>
<text x="115" y="1242.2" textLength="37" lengthAdjust="spacingAndGlyphs">line separator</text>
<text class="r" x="115" y="1247.5" textLength="15" lengthAdjust="spacingAndGlyphs">\r\n</text>
<text x="131" y="1247.5" textLength="42" lengthAdjust="spacingAndGlyphs">or custom delimiter</text>
<text class="r" x="115" y="1251.5" textLength="58" lengthAdjust="spacingAndGlyphs">escape delimiter in body</text>
<rect class="c" x="218" y="1227" width="35" height="10" rx="5"/>
<text x="222" y="1231.2" textLength="28" lengthAdjust="spacingAndGlyphs">most common way</text>
<text x="222" y="1234.6" textLength="20" lengthAdjust="spacingAndGlyphs">binary</text>
<rect class="c" x="180" y="1243" width="35" height="9.5" rx="4.7"/>
<text x="183" y="1247" textLength="28" lengthAdjust="spacingAndGlyphs">text protocols</text>
<text x="183" y="1250.4" textLength="18" lengthAdjust="spacingAndGlyphs">redis</text>
<text x="68" y="1265.2" textLength="15" lengthAdjust="spacingAndGlyphs">fixed</text>
<text x="97" y="1257" textLength="43" lengthAdjust="spacingAndGlyphs">FixedLengthFrameDecoder</text>
<text x="97" y="1260.5" textLength="43" lengthAdjust="spacingAndGlyphs">pad short messages</text>
<text x="97" y="1264.2" textLength="43" lengthAdjust="spacingAndGlyphs">wastes bandwidth</text>
<rect class="c" x="47" y="1268" width="118" height="31" rx="1.5"/>
<text x="50" y="1272.5" textLength="70" lengthAdjust="spacingAndGlyphs">LengthFieldBasedFrameDecoder params</text>
<text x="50" y="1276" textLength="110" lengthAdjust="spacingAndGlyphs">maxFrameLength lengthFieldOffset lengthFieldLength lengthAdjustment strip</text>
<text x="50" y="1279.5" textLength="110" lengthAdjust="spacingAndGlyphs">offset where length starts, length bytes, adjustment for header, strip bytes</text>
<text x="50" y="1283" textLength="10" lengthAdjust="spacingAndGlyphs">end</text>
<text x="50" y="1286.5" textLength="60" lengthAdjust="spacingAndGlyphs">Example: header 2 bytes</text>
<text x="50" y="1290" textLength="105" lengthAdjust="spacingAndGlyphs">- new LengthFieldBasedFrameDecoder(1024, 0, 2, 0, 2)</text>
<text x="50" y="1293.5" textLength="100" lengthAdjust="spacingAndGlyphs">- new LengthFieldPrepender(2) writes length field</text>
<text x="50" y="1297" textLength="25" lengthAdjust="spacingAndGlyphs">- done</text>
<text x="48" y="1363.2" textLength="12" lengthAdjust="spacingAndGlyphs">UDP</text>
<text x="67" y="1304.2" textLength="5" lengthAdjust="spacingAndGlyphs">Bo</text>
<text x="80" y="1302.2" textLength="8" lengthAdjust="spacingAndGlyphs">no</text>
<text class="r" x="88" y="1302.2" textLength="18" lengthAdjust="spacingAndGlyphs">connection</text>
<text x="107" y="1302.2" textLength="11" lengthAdjust="spacingAndGlyphs">less</text>
<text x="80" y="1307.2" textLength="73" lengthAdjust="spacingAndGlyphs">datagram keeps message boundaries</text>
<text x="67" y="1321.2" textLength="8" lengthAdjust="spacingAndGlyphs">Node</text>
<text class="r" x="85" y="1315" textLength="15" lengthAdjust="spacingAndGlyphs">UDP</text>
<text x="101" y="1315" textLength="77" lengthAdjust="spacingAndGlyphs">NioDatagramChannel DatagramPacket sender</text>
<text x="85" y="1321.2" textLength="95" lengthAdjust="spacingAndGlyphs">Bootstrap with SO_BROADCAST option bind(0)</text>
<text x="67" y="1341" textLength="12" lengthAdjust="spacingAndGlyphs">Table</text>
<text class="r" x="87" y="1326" textLength="53" lengthAdjust="spacingAndGlyphs">TCP vs UDP comparison</text>
<rect x="83" y="1330" width="60" height="31" fill="none" stroke="#999" stroke-width=".3"/>
<path d="M83,1334H143M83,1338H143M83,1342H143M83,1346H143M115,1330V1361" stroke="#999" stroke-width=".3" fill="none"/>
<rect x="92" y="1347" width="43" height="13" fill="#f04a45"/>
<text x="85" y="1366" textLength="15" lengthAdjust="spacingAndGlyphs">loss</text>
<text x="115" y="1366" textLength="72" lengthAdjust="spacingAndGlyphs">UDP has no retransmit, no order guarantee</text>
<text x="85" y="1370" textLength="25" lengthAdjust="spacingAndGlyphs">reliable</text>
<text x="115" y="1370" textLength="60" lengthAdjust="spacingAndGlyphs">add ack and sequence</text>
<text x="67" y="1386.2" textLength="10" lengthAdjust="spacingAndGlyphs">Use</text>
<text x="85" y="1376" textLength="18" lengthAdjust="spacingAndGlyphs">multicast</text>
<text x="85" y="1378.3" textLength="18" lengthAdjust="spacingAndGlyphs">group</text>
<text x="113" y="1378.5" textLength="95" lengthAdjust="spacingAndGlyphs">joinGroup InetSocketAddress NetworkInterface</text>
<text x="113" y="1384.5" textLength="20" lengthAdjust="spacingAndGlyphs">DNS</text>
<text class="r" x="133" y="1384.5" textLength="15" lengthAdjust="spacingAndGlyphs">video</text>
<text x="150" y="1384.5" textLength="65" lengthAdjust="spacingAndGlyphs">games real time streams</text>
<text x="113" y="1389.2" textLength="10" lengthAdjust="spacingAndGlyphs">etc</text>
<text x="85" y="1397" textLength="12" lengthAdjust="spacingAndGlyphs">log</text>
<text x="85" y="1399.3" textLength="12" lengthAdjust="spacingAndGlyphs">agent</text>
<text x="113" y="1394" textLength="110" lengthAdjust="spacingAndGlyphs">send log events by LogEventEncoder to broadcast address</text>
<text x="113" y="1397.7" textLength="60" lengthAdjust="spacingAndGlyphs">LogEventDecoder monitor</text>
<text x="113" y="1403.7" textLength="24" lengthAdjust="spacingAndGlyphs">encoder</text>
<text x="113" y="1408.2" textLength="24" lengthAdjust="spacingAndGlyphs">decoder</text>
<rect class="c" x="215" y="1375" width="50" height="8" rx="4"/>
<text x="219" y="1378.6" textLength="42" lengthAdjust="spacingAndGlyphs">255.255.255.255 broadcast</text>
<text x="219" y="1381.6" textLength="25" lengthAdjust="spacingAndGlyphs">port 9999</text>
<text x="67" y="1419.2" textLength="17" lengthAdjust="spacingAndGlyphs">Packet</text>
<text x="97" y="1412" textLength="43" lengthAdjust="spacingAndGlyphs">DatagramPacket content</text>
<text x="97" y="1415.5" textLength="40" lengthAdjust="spacingAndGlyphs">recipient sender</text>
<text x="97" y="1419.2" textLength="40" lengthAdjust="spacingAndGlyphs">AddressedEnvelope</text>
<text x="48" y="1448.2" textLength="18" lengthAdjust="spacingAndGlyphs">Options</text>
<text x="72" y="1433.2" textLength="7" lengthAdjust="spacingAndGlyphs">Nagle</text>
<text x="85" y="1424.5" textLength="65" lengthAdjust="spacingAndGlyphs">TCP_NODELAY disables Nagle algorithm,</text>
<text class="r" x="150" y="1424.5" textLength="30" lengthAdjust="spacingAndGlyphs">low latency</text>
<text x="181" y="1424.5" textLength="59" lengthAdjust="spacingAndGlyphs">for small packets</text>
<text x="85" y="1428.2" textLength="5" lengthAdjust="spacingAndGlyphs">..</text>
<text x="85" y="1434.2" textLength="78" lengthAdjust="spacingAndGlyphs">delayed ACK interaction causes 40ms stalls</text>
<text x="85" y="1443.2" textLength="12" lengthAdjust="spacingAndGlyphs">linger</text>
<text x="103" y="1438.2" textLength="60" lengthAdjust="spacingAndGlyphs">SO_LINGER close behaviour</text>
<text x="103" y="1445.2" textLength="90" lengthAdjust="spacingAndGlyphs">0 sends RST, positive waits for data to be sent</text>
<text x="72" y="1451.2" textLength="12" lengthAdjust="spacingAndGlyphs">timeout</text>
<text x="85" y="1451.2" textLength="35" lengthAdjust="spacingAndGlyphs">CONNECT_TIMEOUT</text>
<text x="72" y="1463.2" textLength="10" lengthAdjust="spacingAndGlyphs">buffer</text>
<text class="r" x="89" y="1455.2" textLength="8" lengthAdjust="spacingAndGlyphs">BDP</text>
<text x="98" y="1455.2" textLength="52" lengthAdjust="spacingAndGlyphs">bandwidth delay product</text>
<text x="89" y="1461" textLength="160" lengthAdjust="spacingAndGlyphs">SO_RCVBUF SO_SNDBUF should be about bandwidth times round trip time, kernel auto tuning usually works</text>
<text x="89" y="1466.2" textLength="20" lengthAdjust="spacingAndGlyphs">tune</text>
</g>
<g id="n13" class="t">
<rect class="bx" x="27" y="1552" width="19" height="6" rx="1.5"/><text class="bt" x="36.5" y="1556.1">Memory</text>
<text x="53" y="1485.2" textLength="5" lengthAdjust="spacingAndGlyphs">Bo</text>
<text x="67" y="1474.5" textLength="83" lengthAdjust="spacingAndGlyphs">Netty uses jemalloc-like pooled allocator with arenas, chunks,</text>
<text class="r" x="150" y="1474.5" textLength="30" lengthAdjust="spacingAndGlyphs">pages 8K</text>
<text x="181" y="1474.5" textLength="84" lengthAdjust="spacingAndGlyphs">subpages and thread local caches</text>
<text x="67" y="1478.2" textLength="5" lengthAdjust="spacingAndGlyphs">..</text>
<text x="67" y="1488.2" textLength="10" lengthAdjust="spacingAndGlyphs">chunk</text>
<text x="85" y="1488.2" textLength="132" lengthAdjust="spacingAndGlyphs">16MB chunk split into 2048 pages, buddy allocation tree</text>
<text x="67" y="1492.2" textLength="10" lengthAdjust="spacingAndGlyphs">cache</text>
<text x="85" y="1492.2" textLength="43" lengthAdjust="spacingAndGlyphs">PoolThreadCache</text>
<rect class="c" x="65" y="1497" width="112" height="10" rx="1.5"/>
<text x="68" y="1501" textLength="105" lengthAdjust="spacingAndGlyphs">tiny small normal huge size classes, huge is not pooled, allocated directly</text>
<text x="68" y="1504.6" textLength="10" lengthAdjust="spacingAndGlyphs">end</text>
<text x="53" y="1513.2" textLength="17" lengthAdjust="spacingAndGlyphs">Allocator</text>
<text x="76" y="1509.2" textLength="17" lengthAdjust="spacingAndGlyphs">Pooled</text>
<text x="76" y="1516.2" textLength="17" lengthAdjust="spacingAndGlyphs">Unpooled</text>
<text x="53" y="1526.2" textLength="18" lengthAdjust="spacingAndGlyphs">Direct</text>
<text x="80" y="1520.5" textLength="102" lengthAdjust="spacingAndGlyphs">io.netty.maxDirectMemory, PlatformDependent, Cleaner freed</text>
<text x="80" y="1524.2" textLength="5" lengthAdjust="spacingAndGlyphs">..</text>
<text x="53" y="1548.2" textLength="10" lengthAdjust="spacingAndGlyphs">Arena</text>
<text x="72" y="1541.2" textLength="12" lengthAdjust="spacingAndGlyphs">struct</text>
<text x="90" y="1529.2" textLength="43" lengthAdjust="spacingAndGlyphs">PoolArena</text>
<text x="90" y="1536.2" textLength="13" lengthAdjust="spacingAndGlyphs">q050</text>
<text x="90" y="1540.2" textLength="100" lengthAdjust="spacingAndGlyphs">PoolChunkList qInit q000 q025 q050 q075 q100 usage</text>
<text x="90" y="1546.2" textLength="83" lengthAdjust="spacingAndGlyphs">PoolSubpage tinySubpagePools smallSubpagePools</text>
<text x="90" y="1551.2" textLength="55" lengthAdjust="spacingAndGlyphs">numArenas cpu * 2</text>
<text x="72" y="1563.2" textLength="10" lengthAdjust="spacingAndGlyphs">size</text>
<text x="90" y="1557.2" textLength="13" lengthAdjust="spacingAndGlyphs">tiny</text>
<text x="90" y="1563.2" textLength="17" lengthAdjust="spacingAndGlyphs">small</text>
<text x="90" y="1569.2" textLength="10" lengthAdjust="spacingAndGlyphs">normal</text>
<rect x="192" y="1561" width="40" height="15" rx="1.5" fill="#2a9fbf"/>
<text class="w" x="195" y="1565" textLength="34" lengthAdjust="spacingAndGlyphs">tiny &lt; 512B  small &lt; 8K</text>
<text class="w" x="195" y="1568.4" textLength="12" lengthAdjust="spacingAndGlyphs">normal</text>
<text class="w" x="195" y="1571.8" textLength="10" lengthAdjust="spacingAndGlyphs">huge</text>
<text class="w" x="195" y="1575" textLength="34" lengthAdjust="spacingAndGlyphs">chunkSize 16MB pages 8K</text>
<text x="53" y="1580.2" textLength="10" lengthAdjust="spacingAndGlyphs">Leak</text>
<text x="72" y="1578.2" textLength="10" lengthAdjust="spacingAndGlyphs">level</text>
<text x="90" y="1578.2" textLength="100" lengthAdjust="spacingAndGlyphs">DISABLED SIMPLE ADVANCED PARANOID -Dio.netty.leakDetection.level</text>
<text x="72" y="1583.2" textLength="10" lengthAdjust="spacingAndGlyphs">trace</text>
<text x="53" y="1596.2" textLength="18" lengthAdjust="spacingAndGlyphs">Recycler</text>
<text class="r" x="80" y="1589.2" textLength="45" lengthAdjust="spacingAndGlyphs">object pool per thread</text>
<text x="126" y="1589.2" textLength="32" lengthAdjust="spacingAndGlyphs">Stack WeakOrderQueue</text>
<text x="80" y="1593.5" textLength="35" lengthAdjust="spacingAndGlyphs">Handle recycle()</text>
<text x="80" y="1597" textLength="20" lengthAdjust="spacingAndGlyphs">get()</text>
<text class="r" x="80" y="1600.5" textLength="10" lengthAdjust="spacingAndGlyphs">max</text>
<text x="91" y="1600.5" textLength="15" lengthAdjust="spacingAndGlyphs">capacity</text>
<text x="80" y="1604.5" textLength="30" lengthAdjust="spacingAndGlyphs">cross thread</text>
<text x="53" y="1620.2" textLength="18" lengthAdjust="spacingAndGlyphs">FastThreadLocal</text>
<text x="80" y="1610.2" textLength="45" lengthAdjust="spacingAndGlyphs">index based array lookup</text>
<text class="r" x="126" y="1610.2" textLength="32" lengthAdjust="spacingAndGlyphs">no hash</text>
<text x="80" y="1614.5" textLength="33" lengthAdjust="spacingAndGlyphs">InternalThreadLocalMap</text>
<text x="80" y="1617.8" textLength="33" lengthAdjust="spacingAndGlyphs">FastThreadLocalThread</text>
<text class="r" x="80" y="1621.1" textLength="10" lengthAdjust="spacingAndGlyphs">fast</text>
<text x="80" y="1624.4" textLength="30" lengthAdjust="spacingAndGlyphs">removeAll on exit</text>
<text x="80" y="1627.7" textLength="30" lengthAdjust="spacingAndGlyphs">variablesToRemove</text>
<text x="80" y="1631" textLength="33" lengthAdjust="spacingAndGlyphs">onRemoval hook</text>
</g>
<g id="n14" class="t">
<rect class="bx" x="27" y="1755" width="19" height="6" rx="1.5"/><text class="bt" x="36.5" y="1759.1">Zero Copy</text>
<text x="53" y="1654.2" textLength="5" lengthAdjust="spacingAndGlyphs">Bo</text>
<text x="67" y="1640.2" textLength="65" lengthAdjust="spacingAndGlyphs">avoid copying data between buffers</text>
<text x="67" y="1645.5" textLength="130" lengthAdjust="spacingAndGlyphs">OS level: sendfile, mmap, DMA; Netty level: direct buffers, composite, slice, wrap</text>
<text x="67" y="1649" textLength="5" lengthAdjust="spacingAndGlyphs">..</text>
<text x="68" y="1655.5" textLength="10" lengthAdjust="spacingAndGlyphs">disk</text>
<text x="80" y="1655.5" textLength="4" lengthAdjust="spacingAndGlyphs">|</text>
<text x="86" y="1655.5" textLength="10" lengthAdjust="spacingAndGlyphs">kern</text>
<text x="72" y="1658.8" textLength="12" lengthAdjust="spacingAndGlyphs">- - user</text>
<text x="53" y="1675.2" textLength="18" lengthAdjust="spacingAndGlyphs">Composite</text>
<text x="77" y="1666.2" textLength="40" lengthAdjust="spacingAndGlyphs">CompositeByteBuf</text>
<text x="77" y="1685.2" textLength="21" lengthAdjust="spacingAndGlyphs">addComponents</text>
<text x="105" y="1676.2" textLength="12" lengthAdjust="spacingAndGlyphs">header</text>
<text x="123" y="1667.5" textLength="43" lengthAdjust="spacingAndGlyphs">header and body kept</text>
<text x="123" y="1671" textLength="43" lengthAdjust="spacingAndGlyphs">as separate buffers</text>
<text x="123" y="1674.6" textLength="35" lengthAdjust="spacingAndGlyphs">logical view</text>
<text class="r" x="173" y="1676.2" textLength="22" lengthAdjust="spacingAndGlyphs">no copy</text>
<text class="r" x="173" y="1681.2" textLength="15" lengthAdjust="spacingAndGlyphs">true</text>
<text x="105" y="1686.2" textLength="55" lengthAdjust="spacingAndGlyphs">increaseWriterIndex flag</text>
<text x="53" y="1696.2" textLength="5" lengthAdjust="spacingAndGlyphs">Bo</text>
<text class="r" x="67" y="1691.2" textLength="40" lengthAdjust="spacingAndGlyphs">Unpooled.wrappedBuffer</text>
<text x="67" y="1698.5" textLength="113" lengthAdjust="spacingAndGlyphs">wrap byte array or ByteBuffer without copy, slice shares memory</text>
<text x="67" y="1702.2" textLength="5" lengthAdjust="spacingAndGlyphs">..</text>
<text x="53" y="1725.2" textLength="10" lengthAdjust="spacingAndGlyphs">File</text>
<text x="72" y="1709.2" textLength="12" lengthAdjust="spacingAndGlyphs">region</text>
<text x="90" y="1707.2" textLength="12" lengthAdjust="spacingAndGlyphs">class</text>
<text class="bl" x="105" y="1707.2" textLength="40" lengthAdjust="spacingAndGlyphs">DefaultFileRegion</text>
<text class="gr" x="147" y="1707.2" textLength="28" lengthAdjust="spacingAndGlyphs">transferTo</text>
<text class="gr" x="90" y="1712.2" textLength="22" lengthAdjust="spacingAndGlyphs">sendfile</text>
<text x="113" y="1712.2" textLength="39" lengthAdjust="spacingAndGlyphs">kernel to socket</text>
<text x="72" y="1727.2" textLength="17" lengthAdjust="spacingAndGlyphs">usage</text>
<text class="bl" x="97" y="1718.8" textLength="20" lengthAdjust="spacingAndGlyphs">RandomAccess</text>
<text x="127" y="1718.8" textLength="5" lengthAdjust="spacingAndGlyphs">..</text>
<text x="97" y="1721.7" textLength="40" lengthAdjust="spacingAndGlyphs">new DefaultFileRegion</text>
<text class="r" x="138" y="1721.7" textLength="20" lengthAdjust="spacingAndGlyphs">(channel</text>
<text x="160" y="1721.7" textLength="65" lengthAdjust="spacingAndGlyphs">0, length) ctx.writeAndFlush(region)</text>
<text class="gr" x="97" y="1728.2" textLength="25" lengthAdjust="spacingAndGlyphs">SSL fallback</text>
<text x="124" y="1728.2" textLength="86" lengthAdjust="spacingAndGlyphs">cannot use zero copy with SslHandler, use ChunkedFile</text>
<text x="115" y="1731.7" textLength="25" lengthAdjust="spacingAndGlyphs">when TLS</text>
<text class="r" x="140" y="1731.7" textLength="60" lengthAdjust="spacingAndGlyphs">ChunkedWriteHandler required</text>
<text x="202" y="1731.7" textLength="58" lengthAdjust="spacingAndGlyphs">for large transfers in pipeline</text>
<text x="97" y="1737.2" textLength="13" lengthAdjust="spacingAndGlyphs">epoll</text>
<text x="115" y="1737.2" textLength="5" lengthAdjust="spacingAndGlyphs">..</text>
<text x="72" y="1742.2" textLength="8" lengthAdjust="spacingAndGlyphs">mmap</text>
<text x="93" y="1742.2" textLength="40" lengthAdjust="spacingAndGlyphs">MappedByteBuffer</text>
<text x="50" y="1778.2" textLength="20" lengthAdjust="spacingAndGlyphs">Epoll</text>
<text x="80" y="1748.2" textLength="55" lengthAdjust="spacingAndGlyphs">native transport on Linux</text>
<text class="r" x="136" y="1748.2" textLength="25" lengthAdjust="spacingAndGlyphs">edge-triggered</text>
<text x="79" y="1759.2" textLength="14" lengthAdjust="spacingAndGlyphs">classes</text>
<text x="102" y="1752.2" textLength="68" lengthAdjust="spacingAndGlyphs">EpollEventLoopGroup EpollSocketChannel</text>
<text x="102" y="1758" textLength="100" lengthAdjust="spacingAndGlyphs">EpollServerSocketChannel EpollDatagramChannel domain socket</text>
<text x="102" y="1763.2" textLength="5" lengthAdjust="spacingAndGlyphs">..</text>
<text x="102" y="1767.2" textLength="60" lengthAdjust="spacingAndGlyphs">Epoll.isAvailable() check</text>
<text x="80" y="1773" textLength="43" lengthAdjust="spacingAndGlyphs">fewer objects, less GC,</text>
<text class="r" x="124" y="1773" textLength="20" lengthAdjust="spacingAndGlyphs">faster</text>
<text x="145" y="1773" textLength="30" lengthAdjust="spacingAndGlyphs">than NIO selector</text>
<text x="80" y="1777.2" textLength="5" lengthAdjust="spacingAndGlyphs">..</text>
<text x="80" y="1793.2" textLength="40" lengthAdjust="spacingAndGlyphs">SO_REUSEPORT option</text>
<text class="r" x="121" y="1793.2" textLength="30" lengthAdjust="spacingAndGlyphs">multi bind</text>
<text x="152" y="1793.2" textLength="30" lengthAdjust="spacingAndGlyphs">same port load</text>
<text class="r" x="183" y="1793.2" textLength="28" lengthAdjust="spacingAndGlyphs">balanced</text>
<text x="80" y="1802.2" textLength="52" lengthAdjust="spacingAndGlyphs">TCP_CORK TCP_QUICKACK</text>
<text class="r" x="133" y="1802.2" textLength="30" lengthAdjust="spacingAndGlyphs">linux only</text>
<text x="164" y="1802.2" textLength="46" lengthAdjust="spacingAndGlyphs">EpollChannelOption</text>
<text x="80" y="1808.7" textLength="103" lengthAdjust="spacingAndGlyphs">KQueue on BSD and macOS, io_uring incubator transport</text>
<text x="80" y="1812.2" textLength="5" lengthAdjust="spacingAndGlyphs">..</text>
<rect class="c" x="188" y="1780" width="42" height="10" rx="2"/>
<text x="191" y="1784" textLength="36" lengthAdjust="spacingAndGlyphs">kernel 3.9+ required</text>
<text x="191" y="1787.5" textLength="36" lengthAdjust="spacingAndGlyphs">add native dependency</text>
<text x="50" y="1827.2" textLength="13" lengthAdjust="spacingAndGlyphs">Notes</text>
<text x="72" y="1814.5" textLength="108" lengthAdjust="spacingAndGlyphs">transferTo may send fewer bytes than asked, loop until done</text>
<text x="72" y="1818" textLength="108" lengthAdjust="spacingAndGlyphs">progress listener ChannelProgressiveFuture for large files</text>
<text x="72" y="1821.5" textLength="108" lengthAdjust="spacingAndGlyphs">direct buffers avoid an extra copy from heap into native memory</text>
<text x="72" y="1825" textLength="110" lengthAdjust="spacingAndGlyphs">compare with java NIO FileChannel.transferTo and MappedByteBuffer</text>
<text x="53" y="1858.2" textLength="15" lengthAdjust="spacingAndGlyphs">Summary</text>
<text x="77" y="1832.2" textLength="56" lengthAdjust="spacingAndGlyphs">direct buffer for socket IO</text>
<text x="77" y="1837" textLength="70" lengthAdjust="spacingAndGlyphs">CompositeByteBuf merges header and body</text>
<text class="r" x="148" y="1837" textLength="25" lengthAdjust="spacingAndGlyphs">virtually</text>
<text x="174" y="1837" textLength="33" lengthAdjust="spacingAndGlyphs">without copy</text>
<text x="77" y="1840.9" textLength="30" lengthAdjust="spacingAndGlyphs">logical</text>
<text x="77" y="1848.2" textLength="30" lengthAdjust="spacingAndGlyphs">wrap arrays</text>
<text x="77" y="1852.5" textLength="56" lengthAdjust="spacingAndGlyphs">slice and duplicate views</text>
<text x="77" y="1858.9" textLength="40" lengthAdjust="spacingAndGlyphs">FileRegion sendfile</text>
<text class="r" x="118" y="1858.9" textLength="15" lengthAdjust="spacingAndGlyphs">zero</text>
<text x="77" y="1864.2" textLength="76" lengthAdjust="spacingAndGlyphs">pooled allocator reduces allocation</text>
<text x="77" y="1867" textLength="108" lengthAdjust="spacingAndGlyphs">release buffers exactly once to avoid leaks and double free</text>
<text x="77" y="1870.5" textLength="5" lengthAdjust="spacingAndGlyphs">..</text>
<text x="77" y="1878.2" textLength="53" lengthAdjust="spacingAndGlyphs">readRetainedSlice</text>
<text x="77" y="1883.2" textLength="50" lengthAdjust="spacingAndGlyphs">ByteBufHolder</text>
<text x="77" y="1888.2" textLength="56" lengthAdjust="spacingAndGlyphs">DefaultByteBufHolder</text>
</g>
<g id="n15" class="t">
<rect class="bx" x="27" y="1955" width="19" height="6" rx="1.5"/><text class="bt" x="36.5" y="1959.1">Protocol</text>
<text x="53" y="1915.2" textLength="4" lengthAdjust="spacingAndGlyphs">Bo</text>
<text x="67" y="1897.2" textLength="80" lengthAdjust="spacingAndGlyphs">custom binary protocol design magic version</text>
<text class="r" x="67" y="1902.5" textLength="21" lengthAdjust="spacingAndGlyphs">header</text>
<text x="67" y="1934.2" textLength="23" lengthAdjust="spacingAndGlyphs">fields</text>
<text x="110" y="1908.2" textLength="12" lengthAdjust="spacingAndGlyphs">magic</text>
<rect class="c" x="128" y="1906" width="67" height="9" rx="4.5"/>
<text x="131" y="1909.8" textLength="40" lengthAdjust="spacingAndGlyphs">0xCAFEBABE quick check</text>
<text x="131" y="1913.2" textLength="50" lengthAdjust="spacingAndGlyphs">reject invalid stream</text>
<text class="r" x="182" y="1913.2" textLength="10" lengthAdjust="spacingAndGlyphs">fast</text>
<text x="95" y="1924.2" textLength="10" lengthAdjust="spacingAndGlyphs">meta</text>
<text x="113" y="1917.2" textLength="12" lengthAdjust="spacingAndGlyphs">version</text>
<text x="113" y="1924.2" textLength="13" lengthAdjust="spacingAndGlyphs">serializer</text>
<text x="113" y="1930.2" textLength="33" lengthAdjust="spacingAndGlyphs">command type</text>
<text x="113" y="1934.2" textLength="15" lengthAdjust="spacingAndGlyphs">status</text>
<rect class="c" x="152" y="1923" width="83" height="8.5" rx="4"/>
<text x="156" y="1926.6" textLength="60" lengthAdjust="spacingAndGlyphs">serializer: json protobuf hessian kryo</text>
<text x="156" y="1929.9" textLength="75" lengthAdjust="spacingAndGlyphs">command: login request response heartbeat</text>
<text x="95" y="1942.2" textLength="30" lengthAdjust="spacingAndGlyphs">length 4 bytes</text>
<text x="137" y="1942.2" textLength="43" lengthAdjust="spacingAndGlyphs">body length field</text>
<text x="95" y="1948.2" textLength="63" lengthAdjust="spacingAndGlyphs">body serialized payload</text>
<text x="53" y="1954.2" textLength="18" lengthAdjust="spacingAndGlyphs">Encoder</text>
<text x="77" y="1951.2" textLength="35" lengthAdjust="spacingAndGlyphs">PacketEncoder write</text>
<text class="r" x="113" y="1951.2" textLength="12" lengthAdjust="spacingAndGlyphs">magic</text>
<text x="126" y="1951.2" textLength="19" lengthAdjust="spacingAndGlyphs">first</text>
<text x="77" y="1957.2" textLength="35" lengthAdjust="spacingAndGlyphs">serialize object</text>
<text class="r" x="113" y="1957.2" textLength="12" lengthAdjust="spacingAndGlyphs">then</text>
<text x="126" y="1957.2" textLength="17" lengthAdjust="spacingAndGlyphs">length</text>
<text x="53" y="1965.2" textLength="28" lengthAdjust="spacingAndGlyphs">Decoder chain</text>
<text x="88" y="1961.2" textLength="25" lengthAdjust="spacingAndGlyphs">Spliter extends</text>
<text class="r" x="114" y="1961.2" textLength="20" lengthAdjust="spacingAndGlyphs">LengthField</text>
<text x="135" y="1961.2" textLength="12" lengthAdjust="spacingAndGlyphs">decoder</text>
<text x="88" y="1968.2" textLength="25" lengthAdjust="spacingAndGlyphs">PacketDecoder</text>
<text class="r" x="114" y="1968.2" textLength="20" lengthAdjust="spacingAndGlyphs">to object</text>
<text x="135" y="1968.2" textLength="12" lengthAdjust="spacingAndGlyphs">dispatch</text>
<text x="53" y="1977.2" textLength="17" lengthAdjust="spacingAndGlyphs">Handlers</text>
<text x="77" y="1973.2" textLength="43" lengthAdjust="spacingAndGlyphs">SimpleChannelInbound</text>
<text x="77" y="1978.2" textLength="126" lengthAdjust="spacingAndGlyphs">one handler per command type, singleton and Sharable to save memory</text>
<text x="53" y="1994.2" textLength="12" lengthAdjust="spacingAndGlyphs">Flow</text>
<text x="72" y="1984" textLength="100" lengthAdjust="spacingAndGlyphs">client login request, server validates and responds</text>
<text x="72" y="1987.6" textLength="100" lengthAdjust="spacingAndGlyphs">mark channel as logged in by attribute key</text>
<text x="72" y="1991.2" textLength="100" lengthAdjust="spacingAndGlyphs">AuthHandler removes itself after successful login</text>
<text x="72" y="1994.3" textLength="5" lengthAdjust="spacingAndGlyphs">..</text>
</g>
<g id="n16" class="t">
<rect class="bx" x="27" y="2200" width="26" height="6" rx="1.5"/><text class="bt" x="40" y="2204.1">Practice</text>
<text x="59" y="2030.2" textLength="6" lengthAdjust="spacingAndGlyphs">IM</text>
<text x="72" y="2004.2" textLength="60" lengthAdjust="spacingAndGlyphs">instant messaging system</text>
<text x="72" y="2009.2" textLength="60" lengthAdjust="spacingAndGlyphs">session map userId to channel</text>
<text class="r" x="133" y="2009.2" textLength="20" lengthAdjust="spacingAndGlyphs">bind</text>
<text x="155" y="2009.2" textLength="53" lengthAdjust="spacingAndGlyphs">unbind on inactive</text>
<text class="r" x="72" y="2014.2" textLength="51" lengthAdjust="spacingAndGlyphs">ConcurrentHashMap</text>
<text x="72" y="2052.2" textLength="15" lengthAdjust="spacingAndGlyphs">features</text>
<text x="105" y="2019.5" textLength="92" lengthAdjust="spacingAndGlyphs">login request response, session util</text>
<text x="105" y="2022.7" textLength="92" lengthAdjust="spacingAndGlyphs">message request with toUserId</text>
<text x="105" y="2026" textLength="85" lengthAdjust="spacingAndGlyphs">server forwards to target channel</text>
<text x="105" y="2029.2" textLength="30" lengthAdjust="spacingAndGlyphs">offline store</text>
<text x="95" y="2032.2" textLength="5" lengthAdjust="spacingAndGlyphs">Lo</text>
<text x="105" y="2035.5" textLength="92" lengthAdjust="spacingAndGlyphs">create group, join group, quit group</text>
<text x="105" y="2038.8" textLength="92" lengthAdjust="spacingAndGlyphs">ChannelGroup writeAndFlush to members</text>
<text x="105" y="2042" textLength="50" lengthAdjust="spacingAndGlyphs">list members</text>
<text x="95" y="2045.2" textLength="5" lengthAdjust="spacingAndGlyphs">Bo</text>
<text x="105" y="2049.5" textLength="90" lengthAdjust="spacingAndGlyphs">console commands from scanner thread</text>
<text x="105" y="2052.7" textLength="90" lengthAdjust="spacingAndGlyphs">ConsoleCommandManager dispatch</text>
<text x="105" y="2055.9" textLength="80" lengthAdjust="spacingAndGlyphs">login logout sendToUser createGroup</text>
<text x="105" y="2059.1" textLength="90" lengthAdjust="spacingAndGlyphs">joinGroup quitGroup listGroupMembers</text>
<text x="105" y="2062.3" textLength="70" lengthAdjust="spacingAndGlyphs">sendToGroup</text>
<text x="105" y="2065.5" textLength="90" lengthAdjust="spacingAndGlyphs">heartbeat request and response</text>
<text x="105" y="2068.7" textLength="85" lengthAdjust="spacingAndGlyphs">idle detection closes dead links</text>
<text x="105" y="2071.9" textLength="60" lengthAdjust="spacingAndGlyphs">reconnect client</text>
<text x="95" y="2074.2" textLength="5" lengthAdjust="spacingAndGlyphs">Lo</text>
<text x="58" y="2085.2" textLength="12" lengthAdjust="spacingAndGlyphs">Perf</text>
<text x="77" y="2077.2" textLength="7" lengthAdjust="spacingAndGlyphs">IO</text>
<text x="90" y="2077.2" textLength="85" lengthAdjust="spacingAndGlyphs">reduce flush calls, batch writes with</text>
<text class="r" x="176" y="2077.2" textLength="37" lengthAdjust="spacingAndGlyphs">FlushConsolidation</text>
<text x="90" y="2081.2" textLength="120" lengthAdjust="spacingAndGlyphs">move business logic to a separate thread pool, keep IO threads free</text>
<text x="77" y="2090.2" textLength="7" lengthAdjust="spacingAndGlyphs">GC</text>
<text x="90" y="2086.2" textLength="110" lengthAdjust="spacingAndGlyphs">use pooled direct buffers and object recycler to lower GC pressure</text>
<text class="r" x="201" y="2086.2" textLength="38" lengthAdjust="spacingAndGlyphs">recycle</text>
<text x="90" y="2091.2" textLength="123" lengthAdjust="spacingAndGlyphs">singleton handlers, avoid creating objects per message</text>
<text x="58" y="2102.2" textLength="18" lengthAdjust="spacingAndGlyphs">Writability</text>
<text x="85" y="2100.2" textLength="55" lengthAdjust="spacingAndGlyphs">channel.isWritable() check before</text>
<text class="r" x="141" y="2100.2" textLength="22" lengthAdjust="spacingAndGlyphs">write</text>
<text x="85" y="2104.2" textLength="83" lengthAdjust="spacingAndGlyphs">channelWritabilityChanged resumes writing</text>
<rect class="c" x="172" y="2097" width="56" height="13" rx="5"/>
<text x="176" y="2101" textLength="48" lengthAdjust="spacingAndGlyphs">high water mark 64K default</text>
<text class="r" x="176" y="2104.5" textLength="22" lengthAdjust="spacingAndGlyphs">low 32K</text>
<text x="199" y="2104.5" textLength="26" lengthAdjust="spacingAndGlyphs">back pressure</text>
<text x="176" y="2108" textLength="30" lengthAdjust="spacingAndGlyphs">avoid OOM</text>
<text x="58" y="2113.2" textLength="13" lengthAdjust="spacingAndGlyphs">Attr</text>
<text x="77" y="2113.2" textLength="73" lengthAdjust="spacingAndGlyphs">AttributeKey channel.attr(key).set(value)</text>
<text x="58" y="2129.2" textLength="30" lengthAdjust="spacingAndGlyphs">Thread model</text>
<text x="95" y="2119.9" textLength="13" lengthAdjust="spacingAndGlyphs">reactor</text>
<text x="115" y="2119.9" textLength="92" lengthAdjust="spacingAndGlyphs">single reactor, multi reactor, main-sub reactor model</text>
<text x="95" y="2123.5" textLength="48" lengthAdjust="spacingAndGlyphs">boss accepts, workers read</text>
<text x="95" y="2130.2" textLength="8" lengthAdjust="spacingAndGlyphs">serial</text>
<text x="110" y="2130.2" textLength="73" lengthAdjust="spacingAndGlyphs">lock free serial design in one loop</text>
<text x="95" y="2135.2" textLength="115" lengthAdjust="spacingAndGlyphs">handler methods for one channel always run in the same thread, no locks</text>
<text x="95" y="2141.2" textLength="53" lengthAdjust="spacingAndGlyphs">DefaultEventExecutorGroup</text>
<rect class="c" x="213" y="2116" width="86.5" height="9" rx="4.5"/>
<text x="216" y="2119.6" textLength="45" lengthAdjust="spacingAndGlyphs">NioEventLoop run() loop</text>
<text class="r" x="262" y="2119.6" textLength="20" lengthAdjust="spacingAndGlyphs">select</text>
<text x="216" y="2123" textLength="80" lengthAdjust="spacingAndGlyphs">processSelectedKeys runAllTasks ioRatio 50</text>
<text x="58" y="2166.2" textLength="32" lengthAdjust="spacingAndGlyphs">Selector bug fix</text>
<text x="97" y="2151.2" textLength="10" lengthAdjust="spacingAndGlyphs">epoll</text>
<text class="r" x="113" y="2145.2" textLength="17" lengthAdjust="spacingAndGlyphs">empty poll</text>
<text x="113" y="2151.5" textLength="10" lengthAdjust="spacingAndGlyphs">CPU</text>
<text class="r" x="124" y="2151.5" textLength="18" lengthAdjust="spacingAndGlyphs">100%</text>
<text x="113" y="2157.2" textLength="10" lengthAdjust="spacingAndGlyphs">jdk</text>
<text class="r" x="124" y="2157.2" textLength="17" lengthAdjust="spacingAndGlyphs">bug</text>
<text x="97" y="2166.2" textLength="10" lengthAdjust="spacingAndGlyphs">detect</text>
<text x="113" y="2161.9" textLength="15" lengthAdjust="spacingAndGlyphs">count</text>
<text class="r" x="113" y="2166.2" textLength="15" lengthAdjust="spacingAndGlyphs">512</text>
<text x="113" y="2171.2" textLength="15" lengthAdjust="spacingAndGlyphs">times</text>
<text x="97" y="2177.2" textLength="10" lengthAdjust="spacingAndGlyphs">fix</text>
<text x="113" y="2174.2" textLength="10" lengthAdjust="spacingAndGlyphs">new</text>
<text class="r" x="124" y="2174.2" textLength="10" lengthAdjust="spacingAndGlyphs">selector</text>
<text x="113" y="2179.2" textLength="10" lengthAdjust="spacingAndGlyphs">move</text>
<text class="r" x="124" y="2179.2" textLength="6" lengthAdjust="spacingAndGlyphs">keys</text>
<text x="58" y="2204.2" textLength="32" lengthAdjust="spacingAndGlyphs">Common problems</text>
<text x="97" y="2184.2" textLength="8" lengthAdjust="spacingAndGlyphs">OOM</text>
<text x="97" y="2193.2" textLength="8" lengthAdjust="spacingAndGlyphs">leak</text>
<text x="113" y="2189.7" textLength="110" lengthAdjust="spacingAndGlyphs">direct memory leak when ByteBuf is not released, check leak detector log</text>
<text x="113" y="2193.2" textLength="60" lengthAdjust="spacingAndGlyphs">LEAK: ByteBuf.release()</text>
<text x="97" y="2202.2" textLength="8" lengthAdjust="spacingAndGlyphs">block</text>
<text x="113" y="2199" textLength="115" lengthAdjust="spacingAndGlyphs">blocking calls inside handlers stall every channel bound to the same event loop</text>
<text x="113" y="2202.2" textLength="110" lengthAdjust="spacingAndGlyphs">database and RPC calls should be moved to a business thread pool</text>
<text x="113" y="2207.7" textLength="115" lengthAdjust="spacingAndGlyphs">writeAndFlush from outside thread is safe, task is queued into the loop</text>
<text x="113" y="2211.2" textLength="58" lengthAdjust="spacingAndGlyphs">order is preserved</text>
<text class="r" x="97" y="2227.2" textLength="8" lengthAdjust="spacingAndGlyphs">CPU</text>
<text class="r" x="113" y="2217.5" textLength="38" lengthAdjust="spacingAndGlyphs">busy loop</text>
<text x="113" y="2221" textLength="85" lengthAdjust="spacingAndGlyphs">too many small writes, flush per message</text>
<text x="113" y="2224.5" textLength="85" lengthAdjust="spacingAndGlyphs">selector spin, large ioRatio settings</text>
<text x="113" y="2227.2" textLength="60" lengthAdjust="spacingAndGlyphs">profile with jstack</text>
<text x="58" y="2249.2" textLength="24" lengthAdjust="spacingAndGlyphs">Debugging</text>
<text x="88" y="2231.2" textLength="12" lengthAdjust="spacingAndGlyphs">log</text>
<text x="110" y="2231.2" textLength="63" lengthAdjust="spacingAndGlyphs">LoggingHandler hex dump</text>
<text x="88" y="2242.2" textLength="13" lengthAdjust="spacingAndGlyphs">tools</text>
<text x="110" y="2236.5" textLength="117" lengthAdjust="spacingAndGlyphs">EmbeddedChannel for unit tests, writeInbound readOutbound finish</text>
<text x="110" y="2240.2" textLength="5" lengthAdjust="spacingAndGlyphs">..</text>
<text x="110" y="2247.2" textLength="37" lengthAdjust="spacingAndGlyphs">wireshark tcpdump</text>
<text class="r" x="88" y="2265.2" textLength="8" lengthAdjust="spacingAndGlyphs">tip</text>
<text x="103" y="2251.5" textLength="25" lengthAdjust="spacingAndGlyphs">metrics</text>
<text class="r" x="130" y="2251.5" textLength="20" lengthAdjust="spacingAndGlyphs">pending</text>
<text x="103" y="2255" textLength="70" lengthAdjust="spacingAndGlyphs">pendingTasks per event loop</text>
<text x="103" y="2258.5" textLength="85" lengthAdjust="spacingAndGlyphs">usedDirectMemory from allocator metric</text>
<text x="103" y="2262" textLength="85" lengthAdjust="spacingAndGlyphs">channel count and bytes in and out</text>
<text x="103" y="2265.2" textLength="5" lengthAdjust="spacingAndGlyphs">..</text>
<text x="58" y="2282.2" textLength="32" lengthAdjust="spacingAndGlyphs">Source reading</text>
<text x="97" y="2270.2" textLength="25" lengthAdjust="spacingAndGlyphs">bind flow</text>
<text class="r" x="123" y="2270.2" textLength="20" lengthAdjust="spacingAndGlyphs">initAndRegister</text>
<text x="97" y="2274.9" textLength="33" lengthAdjust="spacingAndGlyphs">accept flow</text>
<text class="r" x="131" y="2274.9" textLength="25" lengthAdjust="spacingAndGlyphs">read()</text>
<text x="97" y="2280.2" textLength="80" lengthAdjust="spacingAndGlyphs">write flow: write into ChannelOutboundBuffer</text>
<text class="r" x="178" y="2280.2" textLength="20" lengthAdjust="spacingAndGlyphs">flush</text>
<text x="199" y="2280.2" textLength="56" lengthAdjust="spacingAndGlyphs">doWrite to socket</text>
<text x="97" y="2285" textLength="53" lengthAdjust="spacingAndGlyphs">AbstractChannel Unsafe</text>
<text x="97" y="2288.5" textLength="53" lengthAdjust="spacingAndGlyphs">NioByteUnsafe read loop</text>
<text x="97" y="2292" textLength="53" lengthAdjust="spacingAndGlyphs">RecvByteBufAllocator</text>
<text x="97" y="2295.5" textLength="45" lengthAdjust="spacingAndGlyphs">AdaptiveRecv guess</text>
<text x="58" y="2329.2" textLength="38" lengthAdjust="spacingAndGlyphs">Interview questions</text>
<text x="103" y="2309.2" textLength="12" lengthAdjust="spacingAndGlyphs">why</text>
<text x="123" y="2302.5" textLength="75" lengthAdjust="spacingAndGlyphs">1. why Netty instead of raw NIO</text>
<text x="123" y="2306" textLength="75" lengthAdjust="spacingAndGlyphs">2. reactor thread model</text>
<text class="r" x="123" y="2309.5" textLength="45" lengthAdjust="spacingAndGlyphs">3. zero copy</text>
<text x="103" y="2338.2" textLength="12" lengthAdjust="spacingAndGlyphs">how</text>
<text x="123" y="2313.5" textLength="128" lengthAdjust="spacingAndGlyphs">4. how to solve sticky and half packets, LengthFieldBasedFrameDecoder</text>
<text x="123" y="2317" textLength="100" lengthAdjust="spacingAndGlyphs">5. how is memory pooled and released</text>
<text class="r" x="123" y="2320.5" textLength="60" lengthAdjust="spacingAndGlyphs">6. epoll bug fix</text>
<text x="123" y="2324" textLength="120" lengthAdjust="spacingAndGlyphs">7. heartbeat with IdleStateHandler and reconnect on close</text>
<text x="123" y="2327.5" textLength="100" lengthAdjust="spacingAndGlyphs">8. pipeline event propagation order</text>
<text x="123" y="2331" textLength="110" lengthAdjust="spacingAndGlyphs">9. FastThreadLocal vs ThreadLocal performance</text>
<text class="r" x="123" y="2337.5" textLength="90" lengthAdjust="spacingAndGlyphs">10. ByteBuf vs ByteBuffer differences</text>
<text x="103" y="2352.2" textLength="35" lengthAdjust="spacingAndGlyphs">performance tuning</text>
<text x="148" y="2342" textLength="52" lengthAdjust="spacingAndGlyphs">11. thread count</text>
<text x="148" y="2345.5" textLength="52" lengthAdjust="spacingAndGlyphs">12. buffer sizes</text>
<text x="148" y="2349" textLength="52" lengthAdjust="spacingAndGlyphs">13. native transport</text>
<text class="r" x="148" y="2352.2" textLength="52" lengthAdjust="spacingAndGlyphs">14. flush consolidation</text>
<text x="58" y="2358.2" textLength="28" lengthAdjust="spacingAndGlyphs">Related projects</text>
<text x="90" y="2355.2" textLength="20" lengthAdjust="spacingAndGlyphs">Dubbo</text>
<text x="90" y="2362.2" textLength="28" lengthAdjust="spacingAndGlyphs">gRPC-java</text>
<text x="58" y="2371.2" textLength="28" lengthAdjust="spacingAndGlyphs">Further reading</text>
<text x="93" y="2366.2" textLength="24" lengthAdjust="spacingAndGlyphs">Netty in Action</text>
<text x="93" y="2372.2" textLength="25" lengthAdjust="spacingAndGlyphs">user guide 4.x</text>
<text x="93" y="2378.2" textLength="27" lengthAdjust="spacingAndGlyphs">source examples</text>
</g>
<g id="n17" class="t">
<rect class="bx" x="27" y="2389" width="28" height="6" rx="1.5"/><text class="bt" x="41" y="2393.1">Summary</text>
<text x="61" y="2386.2" textLength="39" lengthAdjust="spacingAndGlyphs">async event driven framework</text>
<text x="61" y="2392.2" textLength="40" lengthAdjust="spacingAndGlyphs">high performance network apps</text>
</g>
<g id="n18" class="t">
<rect class="bx" x="27" y="2479" width="19" height="6" rx="1.5"/><text class="bt" x="36.5" y="2483.1">Threads</text>
<text x="53" y="2448.2" textLength="27" lengthAdjust="spacingAndGlyphs">Reactor models</text>
<text x="86" y="2426.2" textLength="16" lengthAdjust="spacingAndGlyphs">types</text>
<text x="110" y="2404.2" textLength="13" lengthAdjust="spacingAndGlyphs">single</text>
<text x="110" y="2410.2" textLength="17" lengthAdjust="spacingAndGlyphs">multi thread</text>
<text x="110" y="2416.2" textLength="22" lengthAdjust="spacingAndGlyphs">master slave</text>
<rect x="113" y="2423" width="22" height="3" fill="none" stroke="#888" stroke-width=".4"/><rect x="136" y="2423" width="16" height="3" fill="none" stroke="#888" stroke-width=".4"/><rect x="154" y="2423" width="18" height="3" fill="none" stroke="#888" stroke-width=".4"/>
<path d="M124,2426V2430M144,2426L138,2434M144,2426L150,2434M163,2426V2438M120,2438H128M135,2440H150M158,2438H168M140,2444H150" stroke="#888" stroke-width=".35" fill="none"/>
<text x="114" y="2432" textLength="6" lengthAdjust="spacingAndGlyphs">acc</text>
<text x="137" y="2443.5" textLength="14" lengthAdjust="spacingAndGlyphs">worker pool</text>
<text x="86" y="2462.2" textLength="20" lengthAdjust="spacingAndGlyphs">Netty model</text>
<text x="115" y="2450.5" textLength="5" lengthAdjust="spacingAndGlyphs">1.</text>
<text class="r" x="120" y="2450.5" textLength="20" lengthAdjust="spacingAndGlyphs">BossGroup</text>
<text x="141" y="2450.5" textLength="92" lengthAdjust="spacingAndGlyphs">polls accept events and registers new channels to workers</text>
<text x="115" y="2454" textLength="118" lengthAdjust="spacingAndGlyphs">2. WorkerGroup polls read and write events, processes them in pipeline handlers</text>
<text x="115" y="2457.5" textLength="40" lengthAdjust="spacingAndGlyphs">runs tasks</text>
<text x="115" y="2461" textLength="118" lengthAdjust="spacingAndGlyphs">3. each NioEventLoop runs select, processSelectedKeys and runAllTasks in turn</text>
<text x="86" y="2473.2" textLength="17" lengthAdjust="spacingAndGlyphs">executors</text>
<text x="112" y="2466.5" textLength="43" lengthAdjust="spacingAndGlyphs">EventExecutorGroup</text>
<text x="112" y="2470" textLength="43" lengthAdjust="spacingAndGlyphs">for blocking handlers</text>
<text x="112" y="2473.2" textLength="30" lengthAdjust="spacingAndGlyphs">isolation</text>
<rect class="c" x="85" y="2475" width="98" height="6.5" rx="1.5"/>
<text x="88" y="2479.6" textLength="30" lengthAdjust="spacingAndGlyphs">one channel binds to</text>
<text class="r" x="119" y="2479.6" textLength="12" lengthAdjust="spacingAndGlyphs">one loop</text>
<text x="132" y="2479.6" textLength="20" lengthAdjust="spacingAndGlyphs">one loop serves</text>
<text class="r" x="153" y="2479.6" textLength="12" lengthAdjust="spacingAndGlyphs">many</text>
<text x="166" y="2479.6" textLength="14" lengthAdjust="spacingAndGlyphs">channels</text>
<text x="53" y="2513.2" textLength="25" lengthAdjust="spacingAndGlyphs">Best practices</text>
<text x="86" y="2485.2" textLength="15" lengthAdjust="spacingAndGlyphs">rules:</text>
<text class="r" x="102" y="2485.2" textLength="31" lengthAdjust="spacingAndGlyphs">never block loop</text>
<text x="86" y="2491" textLength="20" lengthAdjust="spacingAndGlyphs">Server side</text>
<text x="88" y="2494.5" textLength="30" lengthAdjust="spacingAndGlyphs">1. boss 1 thread</text>
<text x="88" y="2498" textLength="105" lengthAdjust="spacingAndGlyphs">2. worker threads cpu*2 by default, adjust by load test results</text>
<text x="88" y="2501.5" textLength="105" lengthAdjust="spacingAndGlyphs">3. business threads separate pool, size by the blocking ratio of work</text>
<text x="86" y="2505" textLength="10" lengthAdjust="spacingAndGlyphs">Client</text>
<text x="88" y="2508.5" textLength="45" lengthAdjust="spacingAndGlyphs">1. share one group</text>
<text x="86" y="2512" textLength="15" lengthAdjust="spacingAndGlyphs">Avoid</text>
<text x="88" y="2515.5" textLength="50" lengthAdjust="spacingAndGlyphs">1. sync() in handler</text>
<text x="88" y="2519" textLength="48" lengthAdjust="spacingAndGlyphs">2. Thread.sleep in loop</text>
<text x="88" y="2522.5" textLength="45" lengthAdjust="spacingAndGlyphs">3. huge tasks queued</text>
<text x="86" y="2529" textLength="105" lengthAdjust="spacingAndGlyphs">1. use ctx.executor().schedule for delayed jobs instead of timers</text>
<text x="88" y="2532.5" textLength="30" lengthAdjust="spacingAndGlyphs">2. tune ioRatio</text>
<text x="88" y="2536" textLength="28" lengthAdjust="spacingAndGlyphs">3. monitor loops</text>
</g>
</svg>
